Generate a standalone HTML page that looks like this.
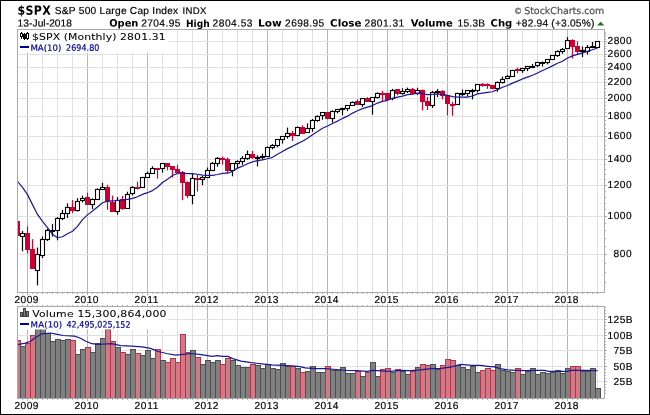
<!DOCTYPE html>
<html><head><meta charset="utf-8"><title>$SPX S&amp;P 500 Large Cap Index</title>
<style>html,body{margin:0;padding:0;background:#fff}svg{display:block;will-change:transform}</style></head>
<body>
<svg width="650" height="415" viewBox="0 0 650 415">
<rect x="0" y="0" width="650" height="415" fill="#fff"/>
<g shape-rendering="crispEdges" fill="none">
<line x1="27.5" y1="29.5" x2="27.5" y2="292.5" stroke="#b6b6b6" stroke-width="1"/>
<line x1="42.5" y1="29.5" x2="42.5" y2="292.5" stroke="#e1e1e1" stroke-width="1"/>
<line x1="57.5" y1="29.5" x2="57.5" y2="292.5" stroke="#e1e1e1" stroke-width="1"/>
<line x1="72.5" y1="29.5" x2="72.5" y2="292.5" stroke="#e1e1e1" stroke-width="1"/>
<line x1="87.5" y1="29.5" x2="87.5" y2="292.5" stroke="#b6b6b6" stroke-width="1"/>
<line x1="102.5" y1="29.5" x2="102.5" y2="292.5" stroke="#e1e1e1" stroke-width="1"/>
<line x1="117.5" y1="29.5" x2="117.5" y2="292.5" stroke="#e1e1e1" stroke-width="1"/>
<line x1="132.5" y1="29.5" x2="132.5" y2="292.5" stroke="#e1e1e1" stroke-width="1"/>
<line x1="147.5" y1="29.5" x2="147.5" y2="292.5" stroke="#b6b6b6" stroke-width="1"/>
<line x1="162.5" y1="29.5" x2="162.5" y2="292.5" stroke="#e1e1e1" stroke-width="1"/>
<line x1="177.5" y1="29.5" x2="177.5" y2="292.5" stroke="#e1e1e1" stroke-width="1"/>
<line x1="192.5" y1="29.5" x2="192.5" y2="292.5" stroke="#e1e1e1" stroke-width="1"/>
<line x1="207.5" y1="29.5" x2="207.5" y2="292.5" stroke="#b6b6b6" stroke-width="1"/>
<line x1="222.5" y1="29.5" x2="222.5" y2="292.5" stroke="#e1e1e1" stroke-width="1"/>
<line x1="237.5" y1="29.5" x2="237.5" y2="292.5" stroke="#e1e1e1" stroke-width="1"/>
<line x1="252.5" y1="29.5" x2="252.5" y2="292.5" stroke="#e1e1e1" stroke-width="1"/>
<line x1="267.5" y1="29.5" x2="267.5" y2="292.5" stroke="#b6b6b6" stroke-width="1"/>
<line x1="282.5" y1="29.5" x2="282.5" y2="292.5" stroke="#e1e1e1" stroke-width="1"/>
<line x1="297.5" y1="29.5" x2="297.5" y2="292.5" stroke="#e1e1e1" stroke-width="1"/>
<line x1="312.5" y1="29.5" x2="312.5" y2="292.5" stroke="#e1e1e1" stroke-width="1"/>
<line x1="327.5" y1="29.5" x2="327.5" y2="292.5" stroke="#b6b6b6" stroke-width="1"/>
<line x1="342.5" y1="29.5" x2="342.5" y2="292.5" stroke="#e1e1e1" stroke-width="1"/>
<line x1="357.5" y1="29.5" x2="357.5" y2="292.5" stroke="#e1e1e1" stroke-width="1"/>
<line x1="372.5" y1="29.5" x2="372.5" y2="292.5" stroke="#e1e1e1" stroke-width="1"/>
<line x1="387.5" y1="29.5" x2="387.5" y2="292.5" stroke="#b6b6b6" stroke-width="1"/>
<line x1="402.5" y1="29.5" x2="402.5" y2="292.5" stroke="#e1e1e1" stroke-width="1"/>
<line x1="417.5" y1="29.5" x2="417.5" y2="292.5" stroke="#e1e1e1" stroke-width="1"/>
<line x1="432.5" y1="29.5" x2="432.5" y2="292.5" stroke="#e1e1e1" stroke-width="1"/>
<line x1="447.5" y1="29.5" x2="447.5" y2="292.5" stroke="#b6b6b6" stroke-width="1"/>
<line x1="462.5" y1="29.5" x2="462.5" y2="292.5" stroke="#e1e1e1" stroke-width="1"/>
<line x1="477.5" y1="29.5" x2="477.5" y2="292.5" stroke="#e1e1e1" stroke-width="1"/>
<line x1="492.5" y1="29.5" x2="492.5" y2="292.5" stroke="#e1e1e1" stroke-width="1"/>
<line x1="507.5" y1="29.5" x2="507.5" y2="292.5" stroke="#b6b6b6" stroke-width="1"/>
<line x1="522.5" y1="29.5" x2="522.5" y2="292.5" stroke="#e1e1e1" stroke-width="1"/>
<line x1="537.5" y1="29.5" x2="537.5" y2="292.5" stroke="#e1e1e1" stroke-width="1"/>
<line x1="552.5" y1="29.5" x2="552.5" y2="292.5" stroke="#e1e1e1" stroke-width="1"/>
<line x1="567.5" y1="29.5" x2="567.5" y2="292.5" stroke="#b6b6b6" stroke-width="1"/>
<line x1="582.5" y1="29.5" x2="582.5" y2="292.5" stroke="#e1e1e1" stroke-width="1"/>
<line x1="597.5" y1="29.5" x2="597.5" y2="292.5" stroke="#e1e1e1" stroke-width="1"/>
<line x1="17.5" y1="254.5" x2="604.5" y2="254.5" stroke="#e1e1e1" stroke-width="1"/>
<line x1="17.5" y1="216.5" x2="604.5" y2="216.5" stroke="#e1e1e1" stroke-width="1"/>
<line x1="17.5" y1="185.5" x2="604.5" y2="185.5" stroke="#e1e1e1" stroke-width="1"/>
<line x1="17.5" y1="159.5" x2="604.5" y2="159.5" stroke="#e1e1e1" stroke-width="1"/>
<line x1="17.5" y1="136.5" x2="604.5" y2="136.5" stroke="#e1e1e1" stroke-width="1"/>
<line x1="17.5" y1="116.5" x2="604.5" y2="116.5" stroke="#e1e1e1" stroke-width="1"/>
<line x1="17.5" y1="98.5" x2="604.5" y2="98.5" stroke="#e1e1e1" stroke-width="1"/>
<line x1="17.5" y1="82.5" x2="604.5" y2="82.5" stroke="#e1e1e1" stroke-width="1"/>
<line x1="17.5" y1="67.5" x2="604.5" y2="67.5" stroke="#e1e1e1" stroke-width="1"/>
<line x1="17.5" y1="54.5" x2="604.5" y2="54.5" stroke="#e1e1e1" stroke-width="1"/>
<line x1="17.5" y1="41.5" x2="604.5" y2="41.5" stroke="#e1e1e1" stroke-width="1"/>
</g>
<rect x="18" y="30" width="150" height="22.5" fill="#fff"/>
<clipPath id="cp"><rect x="18" y="30" width="586" height="262"/></clipPath>
<g clip-path="url(#cp)">
<rect x="15.0" y="221" width="5" height="15" fill="#cc0033"/>
<line x1="22.5" y1="230.9" x2="22.5" y2="251.2" stroke="#000" stroke-width="1.2"/>
<rect x="20.5" y="233.5" width="4" height="3" fill="#fff" stroke="#000" stroke-width="1.1"/>
<line x1="27.5" y1="226.4" x2="27.5" y2="253.6" stroke="#cc0033" stroke-width="1.2"/>
<rect x="25.0" y="233" width="5" height="17" fill="#cc0033"/>
<line x1="32.5" y1="239.2" x2="32.5" y2="269.0" stroke="#cc0033" stroke-width="1.2"/>
<rect x="30.0" y="249" width="5" height="20" fill="#cc0033"/>
<line x1="37.5" y1="247.6" x2="37.5" y2="285.4" stroke="#000" stroke-width="1.2"/>
<rect x="35.5" y="254.5" width="4" height="16" fill="#fff" stroke="#000" stroke-width="1.1"/>
<line x1="42.5" y1="236.6" x2="42.5" y2="258.1" stroke="#000" stroke-width="1.2"/>
<rect x="40.5" y="239.5" width="4" height="16" fill="#fff" stroke="#000" stroke-width="1.1"/>
<line x1="47.5" y1="228.8" x2="47.5" y2="241.0" stroke="#000" stroke-width="1.2"/>
<rect x="45.5" y="230.5" width="4" height="9" fill="#fff" stroke="#000" stroke-width="1.1"/>
<line x1="52.5" y1="224.1" x2="52.5" y2="236.6" stroke="#000" stroke-width="1.2"/>
<rect x="50.0" y="230" width="5" height="2" fill="#000"/>
<line x1="57.5" y1="217.1" x2="57.5" y2="240.3" stroke="#000" stroke-width="1.2"/>
<rect x="55.5" y="218.5" width="4" height="12" fill="#fff" stroke="#000" stroke-width="1.1"/>
<line x1="62.5" y1="210.0" x2="62.5" y2="220.2" stroke="#000" stroke-width="1.2"/>
<rect x="60.5" y="213.5" width="4" height="5" fill="#fff" stroke="#000" stroke-width="1.1"/>
<line x1="67.5" y1="203.4" x2="67.5" y2="217.9" stroke="#000" stroke-width="1.2"/>
<rect x="65.5" y="207.5" width="4" height="6" fill="#fff" stroke="#000" stroke-width="1.1"/>
<line x1="72.5" y1="200.1" x2="72.5" y2="213.2" stroke="#cc0033" stroke-width="1.2"/>
<rect x="70.0" y="207" width="5" height="4" fill="#cc0033"/>
<line x1="77.5" y1="198.2" x2="77.5" y2="211.6" stroke="#000" stroke-width="1.2"/>
<rect x="75.5" y="201.5" width="4" height="9" fill="#fff" stroke="#000" stroke-width="1.1"/>
<line x1="82.5" y1="195.7" x2="82.5" y2="202.5" stroke="#000" stroke-width="1.2"/>
<rect x="80.5" y="198.5" width="4" height="2" fill="#fff" stroke="#000" stroke-width="1.1"/>
<line x1="87.5" y1="192.7" x2="87.5" y2="204.8" stroke="#cc0033" stroke-width="1.2"/>
<rect x="85.0" y="197" width="5" height="8" fill="#cc0033"/>
<line x1="92.5" y1="198.4" x2="92.5" y2="209.1" stroke="#000" stroke-width="1.2"/>
<rect x="90.5" y="199.5" width="4" height="5" fill="#fff" stroke="#000" stroke-width="1.1"/>
<line x1="97.5" y1="188.3" x2="97.5" y2="199.5" stroke="#000" stroke-width="1.2"/>
<rect x="95.5" y="189.5" width="4" height="10" fill="#fff" stroke="#000" stroke-width="1.1"/>
<line x1="102.5" y1="182.8" x2="102.5" y2="189.7" stroke="#000" stroke-width="1.2"/>
<rect x="100.5" y="187.5" width="4" height="2" fill="#fff" stroke="#000" stroke-width="1.1"/>
<line x1="107.5" y1="184.8" x2="107.5" y2="209.7" stroke="#cc0033" stroke-width="1.2"/>
<rect x="105.0" y="187" width="5" height="15" fill="#cc0033"/>
<line x1="112.5" y1="195.6" x2="112.5" y2="211.8" stroke="#cc0033" stroke-width="1.2"/>
<rect x="110.0" y="202" width="5" height="10" fill="#cc0033"/>
<line x1="117.5" y1="197.1" x2="117.5" y2="214.7" stroke="#000" stroke-width="1.2"/>
<rect x="115.5" y="200.5" width="4" height="11" fill="#fff" stroke="#000" stroke-width="1.1"/>
<line x1="122.5" y1="195.9" x2="122.5" y2="209.9" stroke="#cc0033" stroke-width="1.2"/>
<rect x="120.0" y="199" width="5" height="10" fill="#cc0033"/>
<line x1="127.5" y1="191.7" x2="127.5" y2="208.3" stroke="#000" stroke-width="1.2"/>
<rect x="125.5" y="194.5" width="4" height="14" fill="#fff" stroke="#000" stroke-width="1.1"/>
<line x1="132.5" y1="186.1" x2="132.5" y2="195.5" stroke="#000" stroke-width="1.2"/>
<rect x="130.5" y="187.5" width="4" height="6" fill="#fff" stroke="#000" stroke-width="1.1"/>
<line x1="137.5" y1="181.7" x2="137.5" y2="189.4" stroke="#cc0033" stroke-width="1.2"/>
<rect x="135.0" y="187" width="5" height="2" fill="#cc0033"/>
<line x1="142.5" y1="176.9" x2="142.5" y2="187.4" stroke="#000" stroke-width="1.2"/>
<rect x="140.5" y="177.5" width="4" height="10" fill="#fff" stroke="#000" stroke-width="1.1"/>
<line x1="147.5" y1="171.6" x2="147.5" y2="177.6" stroke="#000" stroke-width="1.2"/>
<rect x="145.5" y="173.5" width="4" height="4" fill="#fff" stroke="#000" stroke-width="1.1"/>
<line x1="152.5" y1="166.3" x2="152.5" y2="173.4" stroke="#000" stroke-width="1.2"/>
<rect x="150.5" y="168.5" width="4" height="5" fill="#fff" stroke="#000" stroke-width="1.1"/>
<line x1="157.5" y1="167.8" x2="157.5" y2="178.7" stroke="#cc0033" stroke-width="1.2"/>
<rect x="155.0" y="168" width="5" height="2" fill="#cc0033"/>
<line x1="162.5" y1="163.7" x2="162.5" y2="172.6" stroke="#000" stroke-width="1.2"/>
<rect x="160.5" y="163.5" width="4" height="5" fill="#fff" stroke="#000" stroke-width="1.1"/>
<line x1="167.5" y1="162.9" x2="167.5" y2="170.4" stroke="#cc0033" stroke-width="1.2"/>
<rect x="165.0" y="163" width="5" height="4" fill="#cc0033"/>
<line x1="172.5" y1="166.1" x2="172.5" y2="177.5" stroke="#cc0033" stroke-width="1.2"/>
<rect x="170.0" y="166" width="5" height="4" fill="#cc0033"/>
<line x1="177.5" y1="164.7" x2="177.5" y2="174.2" stroke="#cc0033" stroke-width="1.2"/>
<rect x="175.0" y="169" width="5" height="4" fill="#cc0033"/>
<line x1="182.5" y1="171.0" x2="182.5" y2="200.1" stroke="#cc0033" stroke-width="1.2"/>
<rect x="180.0" y="172" width="5" height="11" fill="#cc0033"/>
<line x1="187.5" y1="181.4" x2="187.5" y2="198.1" stroke="#cc0033" stroke-width="1.2"/>
<rect x="185.0" y="182" width="5" height="14" fill="#cc0033"/>
<line x1="192.5" y1="172.9" x2="192.5" y2="204.3" stroke="#000" stroke-width="1.2"/>
<rect x="190.5" y="178.5" width="4" height="17" fill="#fff" stroke="#000" stroke-width="1.1"/>
<line x1="197.5" y1="174.9" x2="197.5" y2="191.5" stroke="#cc0033" stroke-width="1.2"/>
<rect x="195.0" y="178" width="5" height="2" fill="#cc0033"/>
<line x1="202.5" y1="176.0" x2="202.5" y2="185.2" stroke="#000" stroke-width="1.2"/>
<rect x="200.5" y="177.5" width="4" height="2" fill="#fff" stroke="#000" stroke-width="1.1"/>
<line x1="207.5" y1="167.6" x2="207.5" y2="177.4" stroke="#000" stroke-width="1.2"/>
<rect x="205.5" y="170.5" width="4" height="7" fill="#fff" stroke="#000" stroke-width="1.1"/>
<line x1="212.5" y1="162.0" x2="212.5" y2="170.3" stroke="#000" stroke-width="1.2"/>
<rect x="210.5" y="163.5" width="4" height="7" fill="#fff" stroke="#000" stroke-width="1.1"/>
<line x1="217.5" y1="157.0" x2="217.5" y2="166.8" stroke="#000" stroke-width="1.2"/>
<rect x="215.5" y="158.5" width="4" height="5" fill="#fff" stroke="#000" stroke-width="1.1"/>
<line x1="222.5" y1="156.6" x2="222.5" y2="164.6" stroke="#cc0033" stroke-width="1.2"/>
<rect x="220.0" y="158" width="5" height="2" fill="#cc0033"/>
<line x1="227.5" y1="157.5" x2="227.5" y2="173.0" stroke="#cc0033" stroke-width="1.2"/>
<rect x="225.0" y="159" width="5" height="12" fill="#cc0033"/>
<line x1="232.5" y1="163.8" x2="232.5" y2="176.3" stroke="#000" stroke-width="1.2"/>
<rect x="230.5" y="163.5" width="4" height="7" fill="#fff" stroke="#000" stroke-width="1.1"/>
<line x1="237.5" y1="160.3" x2="237.5" y2="168.6" stroke="#000" stroke-width="1.2"/>
<rect x="235.5" y="161.5" width="4" height="2" fill="#fff" stroke="#000" stroke-width="1.1"/>
<line x1="242.5" y1="156.1" x2="242.5" y2="164.9" stroke="#000" stroke-width="1.2"/>
<rect x="240.5" y="158.5" width="4" height="3" fill="#fff" stroke="#000" stroke-width="1.1"/>
<line x1="247.5" y1="150.5" x2="247.5" y2="159.8" stroke="#000" stroke-width="1.2"/>
<rect x="245.5" y="154.5" width="4" height="4" fill="#fff" stroke="#000" stroke-width="1.1"/>
<line x1="252.5" y1="150.9" x2="252.5" y2="158.9" stroke="#cc0033" stroke-width="1.2"/>
<rect x="250.0" y="154" width="5" height="4" fill="#cc0033"/>
<line x1="257.5" y1="155.2" x2="257.5" y2="166.4" stroke="#000" stroke-width="1.2"/>
<rect x="255.5" y="157.5" width="4" height="1" fill="#fff" stroke="#000" stroke-width="1.1"/>
<line x1="262.5" y1="153.6" x2="262.5" y2="159.6" stroke="#000" stroke-width="1.2"/>
<rect x="260.5" y="156.5" width="4" height="1" fill="#fff" stroke="#000" stroke-width="1.1"/>
<line x1="267.5" y1="146.5" x2="267.5" y2="156.2" stroke="#000" stroke-width="1.2"/>
<rect x="265.5" y="147.5" width="4" height="9" fill="#fff" stroke="#000" stroke-width="1.1"/>
<line x1="272.5" y1="144.1" x2="272.5" y2="149.3" stroke="#000" stroke-width="1.2"/>
<rect x="270.5" y="145.5" width="4" height="2" fill="#fff" stroke="#000" stroke-width="1.1"/>
<line x1="277.5" y1="139.8" x2="277.5" y2="147.4" stroke="#000" stroke-width="1.2"/>
<rect x="275.5" y="139.5" width="4" height="6" fill="#fff" stroke="#000" stroke-width="1.1"/>
<line x1="282.5" y1="136.9" x2="282.5" y2="143.6" stroke="#000" stroke-width="1.2"/>
<rect x="280.5" y="136.5" width="4" height="3" fill="#fff" stroke="#000" stroke-width="1.1"/>
<line x1="287.5" y1="127.6" x2="287.5" y2="138.6" stroke="#000" stroke-width="1.2"/>
<rect x="285.5" y="133.5" width="4" height="3" fill="#fff" stroke="#000" stroke-width="1.1"/>
<line x1="292.5" y1="131.0" x2="292.5" y2="140.9" stroke="#cc0033" stroke-width="1.2"/>
<rect x="290.0" y="133" width="5" height="3" fill="#cc0033"/>
<line x1="297.5" y1="126.5" x2="297.5" y2="136.1" stroke="#000" stroke-width="1.2"/>
<rect x="295.5" y="127.5" width="4" height="8" fill="#fff" stroke="#000" stroke-width="1.1"/>
<line x1="302.5" y1="125.4" x2="302.5" y2="133.7" stroke="#cc0033" stroke-width="1.2"/>
<rect x="300.0" y="127" width="5" height="7" fill="#cc0033"/>
<line x1="307.5" y1="123.4" x2="307.5" y2="133.1" stroke="#000" stroke-width="1.2"/>
<rect x="305.5" y="128.5" width="4" height="4" fill="#fff" stroke="#000" stroke-width="1.1"/>
<line x1="312.5" y1="119.0" x2="312.5" y2="131.8" stroke="#000" stroke-width="1.2"/>
<rect x="310.5" y="120.5" width="4" height="8" fill="#fff" stroke="#000" stroke-width="1.1"/>
<line x1="317.5" y1="115.3" x2="317.5" y2="121.8" stroke="#000" stroke-width="1.2"/>
<rect x="315.5" y="116.5" width="4" height="4" fill="#fff" stroke="#000" stroke-width="1.1"/>
<line x1="322.5" y1="112.0" x2="322.5" y2="119.7" stroke="#000" stroke-width="1.2"/>
<rect x="320.5" y="112.5" width="4" height="3" fill="#fff" stroke="#000" stroke-width="1.1"/>
<line x1="327.5" y1="111.9" x2="327.5" y2="119.4" stroke="#cc0033" stroke-width="1.2"/>
<rect x="325.0" y="112" width="5" height="7" fill="#cc0033"/>
<line x1="332.5" y1="110.3" x2="332.5" y2="122.6" stroke="#000" stroke-width="1.2"/>
<rect x="330.5" y="111.5" width="4" height="7" fill="#fff" stroke="#000" stroke-width="1.1"/>
<line x1="337.5" y1="108.9" x2="337.5" y2="113.4" stroke="#000" stroke-width="1.2"/>
<rect x="335.5" y="109.5" width="4" height="2" fill="#fff" stroke="#000" stroke-width="1.1"/>
<line x1="342.5" y1="107.7" x2="342.5" y2="115.3" stroke="#000" stroke-width="1.2"/>
<rect x="340.5" y="108.5" width="4" height="1" fill="#fff" stroke="#000" stroke-width="1.1"/>
<line x1="347.5" y1="105.3" x2="347.5" y2="111.1" stroke="#000" stroke-width="1.2"/>
<rect x="345.5" y="105.5" width="4" height="3" fill="#fff" stroke="#000" stroke-width="1.1"/>
<line x1="352.5" y1="101.4" x2="352.5" y2="106.0" stroke="#000" stroke-width="1.2"/>
<rect x="350.5" y="102.5" width="4" height="3" fill="#fff" stroke="#000" stroke-width="1.1"/>
<line x1="357.5" y1="99.4" x2="357.5" y2="104.7" stroke="#cc0033" stroke-width="1.2"/>
<rect x="355.0" y="101" width="5" height="4" fill="#cc0033"/>
<line x1="362.5" y1="98.3" x2="362.5" y2="107.0" stroke="#000" stroke-width="1.2"/>
<rect x="360.5" y="98.5" width="4" height="6" fill="#fff" stroke="#000" stroke-width="1.1"/>
<line x1="367.5" y1="97.1" x2="367.5" y2="101.8" stroke="#cc0033" stroke-width="1.2"/>
<rect x="365.0" y="98" width="5" height="4" fill="#cc0033"/>
<line x1="372.5" y1="97.2" x2="372.5" y2="114.7" stroke="#000" stroke-width="1.2"/>
<rect x="370.5" y="97.5" width="4" height="4" fill="#fff" stroke="#000" stroke-width="1.1"/>
<line x1="377.5" y1="92.4" x2="377.5" y2="98.6" stroke="#000" stroke-width="1.2"/>
<rect x="375.5" y="93.5" width="4" height="4" fill="#fff" stroke="#000" stroke-width="1.1"/>
<line x1="382.5" y1="90.9" x2="382.5" y2="101.0" stroke="#cc0033" stroke-width="1.2"/>
<rect x="380.0" y="93" width="5" height="2" fill="#cc0033"/>
<line x1="387.5" y1="92.7" x2="387.5" y2="99.7" stroke="#cc0033" stroke-width="1.2"/>
<rect x="385.0" y="93" width="5" height="7" fill="#cc0033"/>
<line x1="392.5" y1="88.8" x2="392.5" y2="100.3" stroke="#000" stroke-width="1.2"/>
<rect x="390.5" y="90.5" width="4" height="8" fill="#fff" stroke="#000" stroke-width="1.1"/>
<line x1="397.5" y1="89.0" x2="397.5" y2="95.4" stroke="#cc0033" stroke-width="1.2"/>
<rect x="395.0" y="89" width="5" height="5" fill="#cc0033"/>
<line x1="402.5" y1="88.3" x2="402.5" y2="94.6" stroke="#000" stroke-width="1.2"/>
<rect x="400.5" y="91.5" width="4" height="2" fill="#fff" stroke="#000" stroke-width="1.1"/>
<line x1="407.5" y1="87.6" x2="407.5" y2="93.0" stroke="#000" stroke-width="1.2"/>
<rect x="405.5" y="89.5" width="4" height="2" fill="#fff" stroke="#000" stroke-width="1.1"/>
<line x1="412.5" y1="88.0" x2="412.5" y2="94.0" stroke="#cc0033" stroke-width="1.2"/>
<rect x="410.0" y="89" width="5" height="5" fill="#cc0033"/>
<line x1="417.5" y1="87.8" x2="417.5" y2="95.0" stroke="#000" stroke-width="1.2"/>
<rect x="415.5" y="90.5" width="4" height="3" fill="#fff" stroke="#000" stroke-width="1.1"/>
<line x1="422.5" y1="89.4" x2="422.5" y2="110.4" stroke="#cc0033" stroke-width="1.2"/>
<rect x="420.0" y="90" width="5" height="12" fill="#cc0033"/>
<line x1="427.5" y1="96.9" x2="427.5" y2="110.0" stroke="#cc0033" stroke-width="1.2"/>
<rect x="425.0" y="101" width="5" height="5" fill="#cc0033"/>
<line x1="432.5" y1="90.9" x2="432.5" y2="108.0" stroke="#000" stroke-width="1.2"/>
<rect x="430.5" y="92.5" width="4" height="13" fill="#fff" stroke="#000" stroke-width="1.1"/>
<line x1="437.5" y1="89.1" x2="437.5" y2="97.1" stroke="#000" stroke-width="1.2"/>
<rect x="435.0" y="91" width="5" height="2" fill="#000"/>
<line x1="442.5" y1="90.1" x2="442.5" y2="99.3" stroke="#cc0033" stroke-width="1.2"/>
<rect x="440.0" y="91" width="5" height="5" fill="#cc0033"/>
<line x1="447.5" y1="95.5" x2="447.5" y2="115.5" stroke="#cc0033" stroke-width="1.2"/>
<rect x="445.0" y="95" width="5" height="9" fill="#cc0033"/>
<line x1="452.5" y1="101.9" x2="452.5" y2="115.7" stroke="#cc0033" stroke-width="1.2"/>
<rect x="450.0" y="104" width="5" height="2" fill="#cc0033"/>
<line x1="457.5" y1="92.7" x2="457.5" y2="104.1" stroke="#000" stroke-width="1.2"/>
<rect x="455.5" y="93.5" width="4" height="11" fill="#fff" stroke="#000" stroke-width="1.1"/>
<line x1="462.5" y1="89.5" x2="462.5" y2="95.9" stroke="#000" stroke-width="1.2"/>
<rect x="460.5" y="93.5" width="4" height="1" fill="#fff" stroke="#000" stroke-width="1.1"/>
<line x1="467.5" y1="90.1" x2="467.5" y2="96.5" stroke="#000" stroke-width="1.2"/>
<rect x="465.5" y="90.5" width="4" height="3" fill="#fff" stroke="#000" stroke-width="1.1"/>
<line x1="472.5" y1="88.8" x2="472.5" y2="99.4" stroke="#000" stroke-width="1.2"/>
<rect x="470.5" y="90.5" width="4" height="1" fill="#fff" stroke="#000" stroke-width="1.1"/>
<line x1="477.5" y1="84.3" x2="477.5" y2="92.5" stroke="#000" stroke-width="1.2"/>
<rect x="475.5" y="84.5" width="4" height="6" fill="#fff" stroke="#000" stroke-width="1.1"/>
<line x1="482.5" y1="83.0" x2="482.5" y2="86.6" stroke="#cc0033" stroke-width="1.2"/>
<rect x="480.0" y="84" width="5" height="2" fill="#cc0033"/>
<line x1="487.5" y1="83.4" x2="487.5" y2="88.9" stroke="#cc0033" stroke-width="1.2"/>
<rect x="485.0" y="84" width="5" height="2" fill="#cc0033"/>
<line x1="492.5" y1="84.9" x2="492.5" y2="89.2" stroke="#cc0033" stroke-width="1.2"/>
<rect x="490.0" y="85" width="5" height="4" fill="#cc0033"/>
<line x1="497.5" y1="81.4" x2="497.5" y2="91.7" stroke="#000" stroke-width="1.2"/>
<rect x="495.5" y="82.5" width="4" height="6" fill="#fff" stroke="#000" stroke-width="1.1"/>
<line x1="502.5" y1="76.6" x2="502.5" y2="83.5" stroke="#000" stroke-width="1.2"/>
<rect x="500.5" y="79.5" width="4" height="3" fill="#fff" stroke="#000" stroke-width="1.1"/>
<line x1="507.5" y1="74.9" x2="507.5" y2="79.0" stroke="#000" stroke-width="1.2"/>
<rect x="505.5" y="76.5" width="4" height="2" fill="#fff" stroke="#000" stroke-width="1.1"/>
<line x1="512.5" y1="69.7" x2="512.5" y2="77.0" stroke="#000" stroke-width="1.2"/>
<rect x="510.5" y="70.5" width="4" height="6" fill="#fff" stroke="#000" stroke-width="1.1"/>
<line x1="517.5" y1="67.6" x2="517.5" y2="73.3" stroke="#cc0033" stroke-width="1.2"/>
<rect x="515.0" y="69" width="5" height="2" fill="#cc0033"/>
<line x1="522.5" y1="67.8" x2="522.5" y2="72.8" stroke="#000" stroke-width="1.2"/>
<rect x="520.5" y="68.5" width="4" height="2" fill="#fff" stroke="#000" stroke-width="1.1"/>
<line x1="527.5" y1="66.4" x2="527.5" y2="71.1" stroke="#000" stroke-width="1.2"/>
<rect x="525.5" y="66.5" width="4" height="2" fill="#fff" stroke="#000" stroke-width="1.1"/>
<line x1="532.5" y1="63.9" x2="532.5" y2="67.3" stroke="#000" stroke-width="1.2"/>
<rect x="530.5" y="66.5" width="4" height="1" fill="#fff" stroke="#000" stroke-width="1.1"/>
<line x1="537.5" y1="61.9" x2="537.5" y2="67.2" stroke="#000" stroke-width="1.2"/>
<rect x="535.5" y="62.5" width="4" height="3" fill="#fff" stroke="#000" stroke-width="1.1"/>
<line x1="542.5" y1="61.4" x2="542.5" y2="66.5" stroke="#000" stroke-width="1.2"/>
<rect x="540.0" y="62" width="5" height="2" fill="#000"/>
<line x1="547.5" y1="59.4" x2="547.5" y2="64.4" stroke="#000" stroke-width="1.2"/>
<rect x="545.5" y="59.5" width="4" height="3" fill="#fff" stroke="#000" stroke-width="1.1"/>
<line x1="552.5" y1="55.2" x2="552.5" y2="59.4" stroke="#000" stroke-width="1.2"/>
<rect x="550.5" y="55.5" width="4" height="4" fill="#fff" stroke="#000" stroke-width="1.1"/>
<line x1="557.5" y1="50.4" x2="557.5" y2="56.9" stroke="#000" stroke-width="1.2"/>
<rect x="555.5" y="51.5" width="4" height="4" fill="#fff" stroke="#000" stroke-width="1.1"/>
<line x1="562.5" y1="48.0" x2="562.5" y2="53.7" stroke="#000" stroke-width="1.2"/>
<rect x="560.5" y="49.5" width="4" height="2" fill="#fff" stroke="#000" stroke-width="1.1"/>
<line x1="567.5" y1="37.1" x2="567.5" y2="48.8" stroke="#000" stroke-width="1.2"/>
<rect x="565.5" y="40.5" width="4" height="8" fill="#fff" stroke="#000" stroke-width="1.1"/>
<line x1="572.5" y1="39.3" x2="572.5" y2="58.6" stroke="#cc0033" stroke-width="1.2"/>
<rect x="570.0" y="40" width="5" height="7" fill="#cc0033"/>
<line x1="577.5" y1="41.4" x2="577.5" y2="55.0" stroke="#cc0033" stroke-width="1.2"/>
<rect x="575.0" y="46" width="5" height="6" fill="#cc0033"/>
<line x1="582.5" y1="46.6" x2="582.5" y2="57.1" stroke="#000" stroke-width="1.2"/>
<rect x="580.5" y="50.5" width="4" height="1" fill="#fff" stroke="#000" stroke-width="1.1"/>
<line x1="587.5" y1="45.0" x2="587.5" y2="54.5" stroke="#000" stroke-width="1.2"/>
<rect x="585.5" y="47.5" width="4" height="4" fill="#fff" stroke="#000" stroke-width="1.1"/>
<line x1="592.5" y1="42.0" x2="592.5" y2="48.2" stroke="#000" stroke-width="1.2"/>
<rect x="590.0" y="46" width="5" height="2" fill="#000"/>
<line x1="597.5" y1="41.2" x2="597.5" y2="47.7" stroke="#000" stroke-width="1.2"/>
<rect x="595.5" y="41.5" width="4" height="6" fill="#fff" stroke="#000" stroke-width="1.1"/>
<polyline points="17.5,181.33 22.5,187.34 27.5,194.61 32.5,204.62 37.5,214.45 42.5,221.43 47.5,227.63 52.5,234.36 57.5,237.77 62.5,236.77 67.5,233.72 72.5,231.24 77.5,226.31 82.5,219.60 87.5,214.89 92.5,211.03 97.5,206.96 102.5,202.72 107.5,201.13 112.5,200.97 117.5,200.28 122.5,200.08 127.5,199.38 132.5,198.34 137.5,196.71 142.5,194.41 147.5,192.68 152.5,190.62 157.5,187.20 162.5,182.50 167.5,179.15 172.5,175.48 177.5,173.48 182.5,173.01 187.5,173.66 192.5,173.71 197.5,174.23 202.5,175.16 207.5,175.34 212.5,175.31 217.5,174.47 222.5,173.44 227.5,173.21 232.5,171.33 237.5,168.13 242.5,166.18 247.5,163.75 252.5,161.83 257.5,160.56 262.5,159.82 267.5,158.73 272.5,157.33 277.5,154.25 282.5,151.50 287.5,148.61 292.5,146.34 297.5,143.61 302.5,141.18 307.5,138.31 312.5,134.80 317.5,131.60 322.5,128.19 327.5,126.05 332.5,123.45 337.5,121.09 342.5,118.42 347.5,116.17 352.5,113.11 357.5,110.82 362.5,108.58 367.5,107.09 372.5,105.58 377.5,103.08 382.5,101.35 387.5,100.29 392.5,98.41 397.5,97.19 402.5,96.14 407.5,94.66 412.5,94.17 417.5,93.08 422.5,93.46 427.5,94.68 432.5,94.51 437.5,93.81 442.5,94.31 447.5,95.37 452.5,96.65 457.5,97.05 462.5,97.03 467.5,97.09 472.5,96.03 477.5,93.92 482.5,93.16 487.5,92.44 492.5,91.77 497.5,89.67 502.5,87.22 507.5,85.49 512.5,83.16 517.5,81.11 522.5,78.93 527.5,77.14 532.5,75.26 537.5,73.04 542.5,70.53 547.5,68.24 552.5,65.87 557.5,63.30 562.5,61.18 567.5,58.06 572.5,55.87 577.5,54.36 582.5,52.90 587.5,51.38 592.5,49.80 597.5,48.01" fill="none" stroke="#1a1a92" stroke-width="1.2" stroke-linejoin="round"/>
</g>
<g shape-rendering="crispEdges" fill="none" stroke="#ababab" stroke-width="1">
<rect x="17.5" y="29.5" width="587.0" height="263.0"/>
<line x1="604.5" y1="282.5" x2="606.0" y2="282.5"/>
<line x1="604.5" y1="272.5" x2="606.0" y2="272.5"/>
<line x1="604.5" y1="263.5" x2="606.0" y2="263.5"/>
<line x1="604.5" y1="254.5" x2="607.0" y2="254.5"/>
<line x1="604.5" y1="246.5" x2="606.0" y2="246.5"/>
<line x1="604.5" y1="238.5" x2="606.0" y2="238.5"/>
<line x1="604.5" y1="230.5" x2="606.0" y2="230.5"/>
<line x1="604.5" y1="223.5" x2="606.0" y2="223.5"/>
<line x1="604.5" y1="216.5" x2="607.0" y2="216.5"/>
<line x1="604.5" y1="209.5" x2="606.0" y2="209.5"/>
<line x1="604.5" y1="203.5" x2="606.0" y2="203.5"/>
<line x1="604.5" y1="197.5" x2="606.0" y2="197.5"/>
<line x1="604.5" y1="191.5" x2="606.0" y2="191.5"/>
<line x1="604.5" y1="185.5" x2="607.0" y2="185.5"/>
<line x1="604.5" y1="179.5" x2="606.0" y2="179.5"/>
<line x1="604.5" y1="174.5" x2="606.0" y2="174.5"/>
<line x1="604.5" y1="169.5" x2="606.0" y2="169.5"/>
<line x1="604.5" y1="164.5" x2="606.0" y2="164.5"/>
<line x1="604.5" y1="159.5" x2="607.0" y2="159.5"/>
<line x1="604.5" y1="154.5" x2="606.0" y2="154.5"/>
<line x1="604.5" y1="149.5" x2="606.0" y2="149.5"/>
<line x1="604.5" y1="145.5" x2="606.0" y2="145.5"/>
<line x1="604.5" y1="140.5" x2="606.0" y2="140.5"/>
<line x1="604.5" y1="136.5" x2="607.0" y2="136.5"/>
<line x1="604.5" y1="132.5" x2="606.0" y2="132.5"/>
<line x1="604.5" y1="128.5" x2="606.0" y2="128.5"/>
<line x1="604.5" y1="124.5" x2="606.0" y2="124.5"/>
<line x1="604.5" y1="120.5" x2="606.0" y2="120.5"/>
<line x1="604.5" y1="116.5" x2="607.0" y2="116.5"/>
<line x1="604.5" y1="112.5" x2="606.0" y2="112.5"/>
<line x1="604.5" y1="109.5" x2="606.0" y2="109.5"/>
<line x1="604.5" y1="105.5" x2="606.0" y2="105.5"/>
<line x1="604.5" y1="102.5" x2="606.0" y2="102.5"/>
<line x1="604.5" y1="98.5" x2="607.0" y2="98.5"/>
<line x1="604.5" y1="95.5" x2="606.0" y2="95.5"/>
<line x1="604.5" y1="92.5" x2="606.0" y2="92.5"/>
<line x1="604.5" y1="88.5" x2="606.0" y2="88.5"/>
<line x1="604.5" y1="85.5" x2="606.0" y2="85.5"/>
<line x1="604.5" y1="82.5" x2="607.0" y2="82.5"/>
<line x1="604.5" y1="79.5" x2="606.0" y2="79.5"/>
<line x1="604.5" y1="76.5" x2="606.0" y2="76.5"/>
<line x1="604.5" y1="73.5" x2="606.0" y2="73.5"/>
<line x1="604.5" y1="70.5" x2="606.0" y2="70.5"/>
<line x1="604.5" y1="67.5" x2="607.0" y2="67.5"/>
<line x1="604.5" y1="64.5" x2="606.0" y2="64.5"/>
<line x1="604.5" y1="62.5" x2="606.0" y2="62.5"/>
<line x1="604.5" y1="59.5" x2="606.0" y2="59.5"/>
<line x1="604.5" y1="56.5" x2="606.0" y2="56.5"/>
<line x1="604.5" y1="54.5" x2="607.0" y2="54.5"/>
<line x1="604.5" y1="51.5" x2="606.0" y2="51.5"/>
<line x1="604.5" y1="48.5" x2="606.0" y2="48.5"/>
<line x1="604.5" y1="46.5" x2="606.0" y2="46.5"/>
<line x1="604.5" y1="43.5" x2="606.0" y2="43.5"/>
<line x1="604.5" y1="41.5" x2="607.0" y2="41.5"/>
<line x1="604.5" y1="39.5" x2="606.0" y2="39.5"/>
<line x1="604.5" y1="36.5" x2="606.0" y2="36.5"/>
<line x1="604.5" y1="34.5" x2="606.0" y2="34.5"/>
<line x1="604.5" y1="32.5" x2="606.0" y2="32.5"/>
<line x1="22.5" y1="292.5" x2="22.5" y2="294.0"/>
<line x1="27.5" y1="292.5" x2="27.5" y2="295.0"/>
<line x1="32.5" y1="292.5" x2="32.5" y2="294.0"/>
<line x1="37.5" y1="292.5" x2="37.5" y2="294.0"/>
<line x1="42.5" y1="292.5" x2="42.5" y2="294.0"/>
<line x1="47.5" y1="292.5" x2="47.5" y2="294.0"/>
<line x1="52.5" y1="292.5" x2="52.5" y2="294.0"/>
<line x1="57.5" y1="292.5" x2="57.5" y2="294.0"/>
<line x1="62.5" y1="292.5" x2="62.5" y2="294.0"/>
<line x1="67.5" y1="292.5" x2="67.5" y2="294.0"/>
<line x1="72.5" y1="292.5" x2="72.5" y2="294.0"/>
<line x1="77.5" y1="292.5" x2="77.5" y2="294.0"/>
<line x1="82.5" y1="292.5" x2="82.5" y2="294.0"/>
<line x1="87.5" y1="292.5" x2="87.5" y2="295.0"/>
<line x1="92.5" y1="292.5" x2="92.5" y2="294.0"/>
<line x1="97.5" y1="292.5" x2="97.5" y2="294.0"/>
<line x1="102.5" y1="292.5" x2="102.5" y2="294.0"/>
<line x1="107.5" y1="292.5" x2="107.5" y2="294.0"/>
<line x1="112.5" y1="292.5" x2="112.5" y2="294.0"/>
<line x1="117.5" y1="292.5" x2="117.5" y2="294.0"/>
<line x1="122.5" y1="292.5" x2="122.5" y2="294.0"/>
<line x1="127.5" y1="292.5" x2="127.5" y2="294.0"/>
<line x1="132.5" y1="292.5" x2="132.5" y2="294.0"/>
<line x1="137.5" y1="292.5" x2="137.5" y2="294.0"/>
<line x1="142.5" y1="292.5" x2="142.5" y2="294.0"/>
<line x1="147.5" y1="292.5" x2="147.5" y2="295.0"/>
<line x1="152.5" y1="292.5" x2="152.5" y2="294.0"/>
<line x1="157.5" y1="292.5" x2="157.5" y2="294.0"/>
<line x1="162.5" y1="292.5" x2="162.5" y2="294.0"/>
<line x1="167.5" y1="292.5" x2="167.5" y2="294.0"/>
<line x1="172.5" y1="292.5" x2="172.5" y2="294.0"/>
<line x1="177.5" y1="292.5" x2="177.5" y2="294.0"/>
<line x1="182.5" y1="292.5" x2="182.5" y2="294.0"/>
<line x1="187.5" y1="292.5" x2="187.5" y2="294.0"/>
<line x1="192.5" y1="292.5" x2="192.5" y2="294.0"/>
<line x1="197.5" y1="292.5" x2="197.5" y2="294.0"/>
<line x1="202.5" y1="292.5" x2="202.5" y2="294.0"/>
<line x1="207.5" y1="292.5" x2="207.5" y2="295.0"/>
<line x1="212.5" y1="292.5" x2="212.5" y2="294.0"/>
<line x1="217.5" y1="292.5" x2="217.5" y2="294.0"/>
<line x1="222.5" y1="292.5" x2="222.5" y2="294.0"/>
<line x1="227.5" y1="292.5" x2="227.5" y2="294.0"/>
<line x1="232.5" y1="292.5" x2="232.5" y2="294.0"/>
<line x1="237.5" y1="292.5" x2="237.5" y2="294.0"/>
<line x1="242.5" y1="292.5" x2="242.5" y2="294.0"/>
<line x1="247.5" y1="292.5" x2="247.5" y2="294.0"/>
<line x1="252.5" y1="292.5" x2="252.5" y2="294.0"/>
<line x1="257.5" y1="292.5" x2="257.5" y2="294.0"/>
<line x1="262.5" y1="292.5" x2="262.5" y2="294.0"/>
<line x1="267.5" y1="292.5" x2="267.5" y2="295.0"/>
<line x1="272.5" y1="292.5" x2="272.5" y2="294.0"/>
<line x1="277.5" y1="292.5" x2="277.5" y2="294.0"/>
<line x1="282.5" y1="292.5" x2="282.5" y2="294.0"/>
<line x1="287.5" y1="292.5" x2="287.5" y2="294.0"/>
<line x1="292.5" y1="292.5" x2="292.5" y2="294.0"/>
<line x1="297.5" y1="292.5" x2="297.5" y2="294.0"/>
<line x1="302.5" y1="292.5" x2="302.5" y2="294.0"/>
<line x1="307.5" y1="292.5" x2="307.5" y2="294.0"/>
<line x1="312.5" y1="292.5" x2="312.5" y2="294.0"/>
<line x1="317.5" y1="292.5" x2="317.5" y2="294.0"/>
<line x1="322.5" y1="292.5" x2="322.5" y2="294.0"/>
<line x1="327.5" y1="292.5" x2="327.5" y2="295.0"/>
<line x1="332.5" y1="292.5" x2="332.5" y2="294.0"/>
<line x1="337.5" y1="292.5" x2="337.5" y2="294.0"/>
<line x1="342.5" y1="292.5" x2="342.5" y2="294.0"/>
<line x1="347.5" y1="292.5" x2="347.5" y2="294.0"/>
<line x1="352.5" y1="292.5" x2="352.5" y2="294.0"/>
<line x1="357.5" y1="292.5" x2="357.5" y2="294.0"/>
<line x1="362.5" y1="292.5" x2="362.5" y2="294.0"/>
<line x1="367.5" y1="292.5" x2="367.5" y2="294.0"/>
<line x1="372.5" y1="292.5" x2="372.5" y2="294.0"/>
<line x1="377.5" y1="292.5" x2="377.5" y2="294.0"/>
<line x1="382.5" y1="292.5" x2="382.5" y2="294.0"/>
<line x1="387.5" y1="292.5" x2="387.5" y2="295.0"/>
<line x1="392.5" y1="292.5" x2="392.5" y2="294.0"/>
<line x1="397.5" y1="292.5" x2="397.5" y2="294.0"/>
<line x1="402.5" y1="292.5" x2="402.5" y2="294.0"/>
<line x1="407.5" y1="292.5" x2="407.5" y2="294.0"/>
<line x1="412.5" y1="292.5" x2="412.5" y2="294.0"/>
<line x1="417.5" y1="292.5" x2="417.5" y2="294.0"/>
<line x1="422.5" y1="292.5" x2="422.5" y2="294.0"/>
<line x1="427.5" y1="292.5" x2="427.5" y2="294.0"/>
<line x1="432.5" y1="292.5" x2="432.5" y2="294.0"/>
<line x1="437.5" y1="292.5" x2="437.5" y2="294.0"/>
<line x1="442.5" y1="292.5" x2="442.5" y2="294.0"/>
<line x1="447.5" y1="292.5" x2="447.5" y2="295.0"/>
<line x1="452.5" y1="292.5" x2="452.5" y2="294.0"/>
<line x1="457.5" y1="292.5" x2="457.5" y2="294.0"/>
<line x1="462.5" y1="292.5" x2="462.5" y2="294.0"/>
<line x1="467.5" y1="292.5" x2="467.5" y2="294.0"/>
<line x1="472.5" y1="292.5" x2="472.5" y2="294.0"/>
<line x1="477.5" y1="292.5" x2="477.5" y2="294.0"/>
<line x1="482.5" y1="292.5" x2="482.5" y2="294.0"/>
<line x1="487.5" y1="292.5" x2="487.5" y2="294.0"/>
<line x1="492.5" y1="292.5" x2="492.5" y2="294.0"/>
<line x1="497.5" y1="292.5" x2="497.5" y2="294.0"/>
<line x1="502.5" y1="292.5" x2="502.5" y2="294.0"/>
<line x1="507.5" y1="292.5" x2="507.5" y2="295.0"/>
<line x1="512.5" y1="292.5" x2="512.5" y2="294.0"/>
<line x1="517.5" y1="292.5" x2="517.5" y2="294.0"/>
<line x1="522.5" y1="292.5" x2="522.5" y2="294.0"/>
<line x1="527.5" y1="292.5" x2="527.5" y2="294.0"/>
<line x1="532.5" y1="292.5" x2="532.5" y2="294.0"/>
<line x1="537.5" y1="292.5" x2="537.5" y2="294.0"/>
<line x1="542.5" y1="292.5" x2="542.5" y2="294.0"/>
<line x1="547.5" y1="292.5" x2="547.5" y2="294.0"/>
<line x1="552.5" y1="292.5" x2="552.5" y2="294.0"/>
<line x1="557.5" y1="292.5" x2="557.5" y2="294.0"/>
<line x1="562.5" y1="292.5" x2="562.5" y2="294.0"/>
<line x1="567.5" y1="292.5" x2="567.5" y2="295.0"/>
<line x1="572.5" y1="292.5" x2="572.5" y2="294.0"/>
<line x1="577.5" y1="292.5" x2="577.5" y2="294.0"/>
<line x1="582.5" y1="292.5" x2="582.5" y2="294.0"/>
<line x1="587.5" y1="292.5" x2="587.5" y2="294.0"/>
<line x1="592.5" y1="292.5" x2="592.5" y2="294.0"/>
<line x1="597.5" y1="292.5" x2="597.5" y2="294.0"/>
</g>
<text transform="translate(631.6,257) rotate(0.03)" font-family='"Liberation Sans", sans-serif' font-size="10.2" textLength="18" lengthAdjust="spacing" text-anchor="end" stroke="#000" stroke-width="0.18">800</text>
<text transform="translate(631.6,219) rotate(0.03)" font-family='"Liberation Sans", sans-serif' font-size="10.2" textLength="24" lengthAdjust="spacing" text-anchor="end" stroke="#000" stroke-width="0.18">1000</text>
<text transform="translate(631.6,188) rotate(0.03)" font-family='"Liberation Sans", sans-serif' font-size="10.2" textLength="24" lengthAdjust="spacing" text-anchor="end" stroke="#000" stroke-width="0.18">1200</text>
<text transform="translate(631.6,162) rotate(0.03)" font-family='"Liberation Sans", sans-serif' font-size="10.2" textLength="24" lengthAdjust="spacing" text-anchor="end" stroke="#000" stroke-width="0.18">1400</text>
<text transform="translate(631.6,139) rotate(0.03)" font-family='"Liberation Sans", sans-serif' font-size="10.2" textLength="24" lengthAdjust="spacing" text-anchor="end" stroke="#000" stroke-width="0.18">1600</text>
<text transform="translate(631.6,119) rotate(0.03)" font-family='"Liberation Sans", sans-serif' font-size="10.2" textLength="24" lengthAdjust="spacing" text-anchor="end" stroke="#000" stroke-width="0.18">1800</text>
<text transform="translate(631.6,101) rotate(0.03)" font-family='"Liberation Sans", sans-serif' font-size="10.2" textLength="24" lengthAdjust="spacing" text-anchor="end" stroke="#000" stroke-width="0.18">2000</text>
<text transform="translate(631.6,85) rotate(0.03)" font-family='"Liberation Sans", sans-serif' font-size="10.2" textLength="24" lengthAdjust="spacing" text-anchor="end" stroke="#000" stroke-width="0.18">2200</text>
<text transform="translate(631.6,70) rotate(0.03)" font-family='"Liberation Sans", sans-serif' font-size="10.2" textLength="24" lengthAdjust="spacing" text-anchor="end" stroke="#000" stroke-width="0.18">2400</text>
<text transform="translate(631.6,57) rotate(0.03)" font-family='"Liberation Sans", sans-serif' font-size="10.2" textLength="24" lengthAdjust="spacing" text-anchor="end" stroke="#000" stroke-width="0.18">2600</text>
<text transform="translate(631.6,44) rotate(0.03)" font-family='"Liberation Sans", sans-serif' font-size="10.2" textLength="24" lengthAdjust="spacing" text-anchor="end" stroke="#000" stroke-width="0.18">2800</text>
<text transform="translate(26.5,303) rotate(0.03)" font-family='"Liberation Sans", sans-serif' font-size="10.2" textLength="24" lengthAdjust="spacing" text-anchor="middle" stroke="#000" stroke-width="0.18">2009</text>
<text transform="translate(26.5,409) rotate(0.03)" font-family='"Liberation Sans", sans-serif' font-size="10.2" textLength="24" lengthAdjust="spacing" text-anchor="middle" stroke="#000" stroke-width="0.18">2009</text>
<text transform="translate(86.5,303) rotate(0.03)" font-family='"Liberation Sans", sans-serif' font-size="10.2" textLength="24" lengthAdjust="spacing" text-anchor="middle" stroke="#000" stroke-width="0.18">2010</text>
<text transform="translate(86.5,409) rotate(0.03)" font-family='"Liberation Sans", sans-serif' font-size="10.2" textLength="24" lengthAdjust="spacing" text-anchor="middle" stroke="#000" stroke-width="0.18">2010</text>
<text transform="translate(146.5,303) rotate(0.03)" font-family='"Liberation Sans", sans-serif' font-size="10.2" textLength="24" lengthAdjust="spacing" text-anchor="middle" stroke="#000" stroke-width="0.18">2011</text>
<text transform="translate(146.5,409) rotate(0.03)" font-family='"Liberation Sans", sans-serif' font-size="10.2" textLength="24" lengthAdjust="spacing" text-anchor="middle" stroke="#000" stroke-width="0.18">2011</text>
<text transform="translate(206.5,303) rotate(0.03)" font-family='"Liberation Sans", sans-serif' font-size="10.2" textLength="24" lengthAdjust="spacing" text-anchor="middle" stroke="#000" stroke-width="0.18">2012</text>
<text transform="translate(206.5,409) rotate(0.03)" font-family='"Liberation Sans", sans-serif' font-size="10.2" textLength="24" lengthAdjust="spacing" text-anchor="middle" stroke="#000" stroke-width="0.18">2012</text>
<text transform="translate(266.5,303) rotate(0.03)" font-family='"Liberation Sans", sans-serif' font-size="10.2" textLength="24" lengthAdjust="spacing" text-anchor="middle" stroke="#000" stroke-width="0.18">2013</text>
<text transform="translate(266.5,409) rotate(0.03)" font-family='"Liberation Sans", sans-serif' font-size="10.2" textLength="24" lengthAdjust="spacing" text-anchor="middle" stroke="#000" stroke-width="0.18">2013</text>
<text transform="translate(326.5,303) rotate(0.03)" font-family='"Liberation Sans", sans-serif' font-size="10.2" textLength="24" lengthAdjust="spacing" text-anchor="middle" stroke="#000" stroke-width="0.18">2014</text>
<text transform="translate(326.5,409) rotate(0.03)" font-family='"Liberation Sans", sans-serif' font-size="10.2" textLength="24" lengthAdjust="spacing" text-anchor="middle" stroke="#000" stroke-width="0.18">2014</text>
<text transform="translate(386.5,303) rotate(0.03)" font-family='"Liberation Sans", sans-serif' font-size="10.2" textLength="24" lengthAdjust="spacing" text-anchor="middle" stroke="#000" stroke-width="0.18">2015</text>
<text transform="translate(386.5,409) rotate(0.03)" font-family='"Liberation Sans", sans-serif' font-size="10.2" textLength="24" lengthAdjust="spacing" text-anchor="middle" stroke="#000" stroke-width="0.18">2015</text>
<text transform="translate(446.5,303) rotate(0.03)" font-family='"Liberation Sans", sans-serif' font-size="10.2" textLength="24" lengthAdjust="spacing" text-anchor="middle" stroke="#000" stroke-width="0.18">2016</text>
<text transform="translate(446.5,409) rotate(0.03)" font-family='"Liberation Sans", sans-serif' font-size="10.2" textLength="24" lengthAdjust="spacing" text-anchor="middle" stroke="#000" stroke-width="0.18">2016</text>
<text transform="translate(506.5,303) rotate(0.03)" font-family='"Liberation Sans", sans-serif' font-size="10.2" textLength="24" lengthAdjust="spacing" text-anchor="middle" stroke="#000" stroke-width="0.18">2017</text>
<text transform="translate(506.5,409) rotate(0.03)" font-family='"Liberation Sans", sans-serif' font-size="10.2" textLength="24" lengthAdjust="spacing" text-anchor="middle" stroke="#000" stroke-width="0.18">2017</text>
<text transform="translate(566.5,303) rotate(0.03)" font-family='"Liberation Sans", sans-serif' font-size="10.2" textLength="24" lengthAdjust="spacing" text-anchor="middle" stroke="#000" stroke-width="0.18">2018</text>
<text transform="translate(566.5,409) rotate(0.03)" font-family='"Liberation Sans", sans-serif' font-size="10.2" textLength="24" lengthAdjust="spacing" text-anchor="middle" stroke="#000" stroke-width="0.18">2018</text>
<g shape-rendering="crispEdges" fill="none">
<line x1="27.5" y1="306.5" x2="27.5" y2="398.5" stroke="#b6b6b6" stroke-width="1"/>
<line x1="42.5" y1="306.5" x2="42.5" y2="398.5" stroke="#e1e1e1" stroke-width="1"/>
<line x1="57.5" y1="306.5" x2="57.5" y2="398.5" stroke="#e1e1e1" stroke-width="1"/>
<line x1="72.5" y1="306.5" x2="72.5" y2="398.5" stroke="#e1e1e1" stroke-width="1"/>
<line x1="87.5" y1="306.5" x2="87.5" y2="398.5" stroke="#b6b6b6" stroke-width="1"/>
<line x1="102.5" y1="306.5" x2="102.5" y2="398.5" stroke="#e1e1e1" stroke-width="1"/>
<line x1="117.5" y1="306.5" x2="117.5" y2="398.5" stroke="#e1e1e1" stroke-width="1"/>
<line x1="132.5" y1="306.5" x2="132.5" y2="398.5" stroke="#e1e1e1" stroke-width="1"/>
<line x1="147.5" y1="306.5" x2="147.5" y2="398.5" stroke="#b6b6b6" stroke-width="1"/>
<line x1="162.5" y1="306.5" x2="162.5" y2="398.5" stroke="#e1e1e1" stroke-width="1"/>
<line x1="177.5" y1="306.5" x2="177.5" y2="398.5" stroke="#e1e1e1" stroke-width="1"/>
<line x1="192.5" y1="306.5" x2="192.5" y2="398.5" stroke="#e1e1e1" stroke-width="1"/>
<line x1="207.5" y1="306.5" x2="207.5" y2="398.5" stroke="#b6b6b6" stroke-width="1"/>
<line x1="222.5" y1="306.5" x2="222.5" y2="398.5" stroke="#e1e1e1" stroke-width="1"/>
<line x1="237.5" y1="306.5" x2="237.5" y2="398.5" stroke="#e1e1e1" stroke-width="1"/>
<line x1="252.5" y1="306.5" x2="252.5" y2="398.5" stroke="#e1e1e1" stroke-width="1"/>
<line x1="267.5" y1="306.5" x2="267.5" y2="398.5" stroke="#b6b6b6" stroke-width="1"/>
<line x1="282.5" y1="306.5" x2="282.5" y2="398.5" stroke="#e1e1e1" stroke-width="1"/>
<line x1="297.5" y1="306.5" x2="297.5" y2="398.5" stroke="#e1e1e1" stroke-width="1"/>
<line x1="312.5" y1="306.5" x2="312.5" y2="398.5" stroke="#e1e1e1" stroke-width="1"/>
<line x1="327.5" y1="306.5" x2="327.5" y2="398.5" stroke="#b6b6b6" stroke-width="1"/>
<line x1="342.5" y1="306.5" x2="342.5" y2="398.5" stroke="#e1e1e1" stroke-width="1"/>
<line x1="357.5" y1="306.5" x2="357.5" y2="398.5" stroke="#e1e1e1" stroke-width="1"/>
<line x1="372.5" y1="306.5" x2="372.5" y2="398.5" stroke="#e1e1e1" stroke-width="1"/>
<line x1="387.5" y1="306.5" x2="387.5" y2="398.5" stroke="#b6b6b6" stroke-width="1"/>
<line x1="402.5" y1="306.5" x2="402.5" y2="398.5" stroke="#e1e1e1" stroke-width="1"/>
<line x1="417.5" y1="306.5" x2="417.5" y2="398.5" stroke="#e1e1e1" stroke-width="1"/>
<line x1="432.5" y1="306.5" x2="432.5" y2="398.5" stroke="#e1e1e1" stroke-width="1"/>
<line x1="447.5" y1="306.5" x2="447.5" y2="398.5" stroke="#b6b6b6" stroke-width="1"/>
<line x1="462.5" y1="306.5" x2="462.5" y2="398.5" stroke="#e1e1e1" stroke-width="1"/>
<line x1="477.5" y1="306.5" x2="477.5" y2="398.5" stroke="#e1e1e1" stroke-width="1"/>
<line x1="492.5" y1="306.5" x2="492.5" y2="398.5" stroke="#e1e1e1" stroke-width="1"/>
<line x1="507.5" y1="306.5" x2="507.5" y2="398.5" stroke="#b6b6b6" stroke-width="1"/>
<line x1="522.5" y1="306.5" x2="522.5" y2="398.5" stroke="#e1e1e1" stroke-width="1"/>
<line x1="537.5" y1="306.5" x2="537.5" y2="398.5" stroke="#e1e1e1" stroke-width="1"/>
<line x1="552.5" y1="306.5" x2="552.5" y2="398.5" stroke="#e1e1e1" stroke-width="1"/>
<line x1="567.5" y1="306.5" x2="567.5" y2="398.5" stroke="#b6b6b6" stroke-width="1"/>
<line x1="582.5" y1="306.5" x2="582.5" y2="398.5" stroke="#e1e1e1" stroke-width="1"/>
<line x1="597.5" y1="306.5" x2="597.5" y2="398.5" stroke="#e1e1e1" stroke-width="1"/>
<line x1="17.5" y1="381.5" x2="604.5" y2="381.5" stroke="#e1e1e1" stroke-width="1"/>
<line x1="17.5" y1="366.5" x2="604.5" y2="366.5" stroke="#e1e1e1" stroke-width="1"/>
<line x1="17.5" y1="350.5" x2="604.5" y2="350.5" stroke="#e1e1e1" stroke-width="1"/>
<line x1="17.5" y1="335.5" x2="604.5" y2="335.5" stroke="#e1e1e1" stroke-width="1"/>
<line x1="17.5" y1="319.5" x2="604.5" y2="319.5" stroke="#e1e1e1" stroke-width="1"/>
</g>
<clipPath id="cv"><rect x="18" y="307" width="586" height="91"/></clipPath>
<g clip-path="url(#cv)">
<rect x="15.5" y="340.5" width="5" height="58" fill="#d27986" stroke="#b3344b" stroke-width="1" shape-rendering="crispEdges"/>
<rect x="20.5" y="346.5" width="5" height="52" fill="#808080" stroke="#4f4f4f" stroke-width="1" shape-rendering="crispEdges"/>
<rect x="25.5" y="343.5" width="5" height="55" fill="#d27986" stroke="#b3344b" stroke-width="1" shape-rendering="crispEdges"/>
<rect x="30.5" y="335.5" width="5" height="63" fill="#d27986" stroke="#b3344b" stroke-width="1" shape-rendering="crispEdges"/>
<rect x="35.5" y="322.5" width="5" height="76" fill="#808080" stroke="#4f4f4f" stroke-width="1" shape-rendering="crispEdges"/>
<rect x="40.5" y="325.5" width="5" height="73" fill="#808080" stroke="#4f4f4f" stroke-width="1" shape-rendering="crispEdges"/>
<rect x="45.5" y="333.5" width="5" height="65" fill="#808080" stroke="#4f4f4f" stroke-width="1" shape-rendering="crispEdges"/>
<rect x="50.5" y="341.5" width="5" height="57" fill="#808080" stroke="#4f4f4f" stroke-width="1" shape-rendering="crispEdges"/>
<rect x="55.5" y="339.5" width="5" height="59" fill="#808080" stroke="#4f4f4f" stroke-width="1" shape-rendering="crispEdges"/>
<rect x="60.5" y="340.5" width="5" height="58" fill="#808080" stroke="#4f4f4f" stroke-width="1" shape-rendering="crispEdges"/>
<rect x="65.5" y="339.5" width="5" height="59" fill="#808080" stroke="#4f4f4f" stroke-width="1" shape-rendering="crispEdges"/>
<rect x="70.5" y="340.5" width="5" height="58" fill="#d27986" stroke="#b3344b" stroke-width="1" shape-rendering="crispEdges"/>
<rect x="75.5" y="354.5" width="5" height="44" fill="#808080" stroke="#4f4f4f" stroke-width="1" shape-rendering="crispEdges"/>
<rect x="80.5" y="349.5" width="5" height="49" fill="#808080" stroke="#4f4f4f" stroke-width="1" shape-rendering="crispEdges"/>
<rect x="85.5" y="347.5" width="5" height="51" fill="#d27986" stroke="#b3344b" stroke-width="1" shape-rendering="crispEdges"/>
<rect x="90.5" y="352.5" width="5" height="46" fill="#808080" stroke="#4f4f4f" stroke-width="1" shape-rendering="crispEdges"/>
<rect x="95.5" y="343.5" width="5" height="55" fill="#808080" stroke="#4f4f4f" stroke-width="1" shape-rendering="crispEdges"/>
<rect x="100.5" y="338.5" width="5" height="60" fill="#808080" stroke="#4f4f4f" stroke-width="1" shape-rendering="crispEdges"/>
<rect x="105.5" y="329.5" width="5" height="69" fill="#d27986" stroke="#b3344b" stroke-width="1" shape-rendering="crispEdges"/>
<rect x="110.5" y="341.5" width="5" height="57" fill="#d27986" stroke="#b3344b" stroke-width="1" shape-rendering="crispEdges"/>
<rect x="115.5" y="347.5" width="5" height="51" fill="#808080" stroke="#4f4f4f" stroke-width="1" shape-rendering="crispEdges"/>
<rect x="120.5" y="352.5" width="5" height="46" fill="#d27986" stroke="#b3344b" stroke-width="1" shape-rendering="crispEdges"/>
<rect x="125.5" y="354.5" width="5" height="44" fill="#808080" stroke="#4f4f4f" stroke-width="1" shape-rendering="crispEdges"/>
<rect x="130.5" y="349.5" width="5" height="49" fill="#808080" stroke="#4f4f4f" stroke-width="1" shape-rendering="crispEdges"/>
<rect x="135.5" y="353.5" width="5" height="45" fill="#d27986" stroke="#b3344b" stroke-width="1" shape-rendering="crispEdges"/>
<rect x="140.5" y="355.5" width="5" height="43" fill="#808080" stroke="#4f4f4f" stroke-width="1" shape-rendering="crispEdges"/>
<rect x="145.5" y="350.5" width="5" height="48" fill="#808080" stroke="#4f4f4f" stroke-width="1" shape-rendering="crispEdges"/>
<rect x="150.5" y="358.5" width="5" height="40" fill="#808080" stroke="#4f4f4f" stroke-width="1" shape-rendering="crispEdges"/>
<rect x="155.5" y="349.5" width="5" height="49" fill="#d27986" stroke="#b3344b" stroke-width="1" shape-rendering="crispEdges"/>
<rect x="160.5" y="360.5" width="5" height="38" fill="#808080" stroke="#4f4f4f" stroke-width="1" shape-rendering="crispEdges"/>
<rect x="165.5" y="362.5" width="5" height="36" fill="#d27986" stroke="#b3344b" stroke-width="1" shape-rendering="crispEdges"/>
<rect x="170.5" y="358.5" width="5" height="40" fill="#d27986" stroke="#b3344b" stroke-width="1" shape-rendering="crispEdges"/>
<rect x="175.5" y="362.5" width="5" height="36" fill="#d27986" stroke="#b3344b" stroke-width="1" shape-rendering="crispEdges"/>
<rect x="180.5" y="334.5" width="5" height="64" fill="#d27986" stroke="#b3344b" stroke-width="1" shape-rendering="crispEdges"/>
<rect x="185.5" y="352.5" width="5" height="46" fill="#d27986" stroke="#b3344b" stroke-width="1" shape-rendering="crispEdges"/>
<rect x="190.5" y="350.5" width="5" height="48" fill="#808080" stroke="#4f4f4f" stroke-width="1" shape-rendering="crispEdges"/>
<rect x="195.5" y="357.5" width="5" height="41" fill="#d27986" stroke="#b3344b" stroke-width="1" shape-rendering="crispEdges"/>
<rect x="200.5" y="364.5" width="5" height="34" fill="#808080" stroke="#4f4f4f" stroke-width="1" shape-rendering="crispEdges"/>
<rect x="205.5" y="360.5" width="5" height="38" fill="#808080" stroke="#4f4f4f" stroke-width="1" shape-rendering="crispEdges"/>
<rect x="210.5" y="362.5" width="5" height="36" fill="#808080" stroke="#4f4f4f" stroke-width="1" shape-rendering="crispEdges"/>
<rect x="215.5" y="360.5" width="5" height="38" fill="#808080" stroke="#4f4f4f" stroke-width="1" shape-rendering="crispEdges"/>
<rect x="220.5" y="364.5" width="5" height="34" fill="#d27986" stroke="#b3344b" stroke-width="1" shape-rendering="crispEdges"/>
<rect x="225.5" y="358.5" width="5" height="40" fill="#d27986" stroke="#b3344b" stroke-width="1" shape-rendering="crispEdges"/>
<rect x="230.5" y="360.5" width="5" height="38" fill="#808080" stroke="#4f4f4f" stroke-width="1" shape-rendering="crispEdges"/>
<rect x="235.5" y="365.5" width="5" height="33" fill="#808080" stroke="#4f4f4f" stroke-width="1" shape-rendering="crispEdges"/>
<rect x="240.5" y="367.5" width="5" height="31" fill="#808080" stroke="#4f4f4f" stroke-width="1" shape-rendering="crispEdges"/>
<rect x="245.5" y="367.5" width="5" height="31" fill="#808080" stroke="#4f4f4f" stroke-width="1" shape-rendering="crispEdges"/>
<rect x="250.5" y="364.5" width="5" height="34" fill="#d27986" stroke="#b3344b" stroke-width="1" shape-rendering="crispEdges"/>
<rect x="255.5" y="365.5" width="5" height="33" fill="#808080" stroke="#4f4f4f" stroke-width="1" shape-rendering="crispEdges"/>
<rect x="260.5" y="368.5" width="5" height="30" fill="#808080" stroke="#4f4f4f" stroke-width="1" shape-rendering="crispEdges"/>
<rect x="265.5" y="364.5" width="5" height="34" fill="#808080" stroke="#4f4f4f" stroke-width="1" shape-rendering="crispEdges"/>
<rect x="270.5" y="368.5" width="5" height="30" fill="#808080" stroke="#4f4f4f" stroke-width="1" shape-rendering="crispEdges"/>
<rect x="275.5" y="369.5" width="5" height="29" fill="#808080" stroke="#4f4f4f" stroke-width="1" shape-rendering="crispEdges"/>
<rect x="280.5" y="363.5" width="5" height="35" fill="#808080" stroke="#4f4f4f" stroke-width="1" shape-rendering="crispEdges"/>
<rect x="285.5" y="366.5" width="5" height="32" fill="#808080" stroke="#4f4f4f" stroke-width="1" shape-rendering="crispEdges"/>
<rect x="290.5" y="366.5" width="5" height="32" fill="#d27986" stroke="#b3344b" stroke-width="1" shape-rendering="crispEdges"/>
<rect x="295.5" y="368.5" width="5" height="30" fill="#808080" stroke="#4f4f4f" stroke-width="1" shape-rendering="crispEdges"/>
<rect x="300.5" y="372.5" width="5" height="26" fill="#d27986" stroke="#b3344b" stroke-width="1" shape-rendering="crispEdges"/>
<rect x="305.5" y="371.5" width="5" height="27" fill="#808080" stroke="#4f4f4f" stroke-width="1" shape-rendering="crispEdges"/>
<rect x="310.5" y="366.5" width="5" height="32" fill="#808080" stroke="#4f4f4f" stroke-width="1" shape-rendering="crispEdges"/>
<rect x="315.5" y="372.5" width="5" height="26" fill="#808080" stroke="#4f4f4f" stroke-width="1" shape-rendering="crispEdges"/>
<rect x="320.5" y="372.5" width="5" height="26" fill="#808080" stroke="#4f4f4f" stroke-width="1" shape-rendering="crispEdges"/>
<rect x="325.5" y="366.5" width="5" height="32" fill="#d27986" stroke="#b3344b" stroke-width="1" shape-rendering="crispEdges"/>
<rect x="330.5" y="370.5" width="5" height="28" fill="#808080" stroke="#4f4f4f" stroke-width="1" shape-rendering="crispEdges"/>
<rect x="335.5" y="370.5" width="5" height="28" fill="#808080" stroke="#4f4f4f" stroke-width="1" shape-rendering="crispEdges"/>
<rect x="340.5" y="367.5" width="5" height="31" fill="#808080" stroke="#4f4f4f" stroke-width="1" shape-rendering="crispEdges"/>
<rect x="345.5" y="373.5" width="5" height="25" fill="#808080" stroke="#4f4f4f" stroke-width="1" shape-rendering="crispEdges"/>
<rect x="350.5" y="373.5" width="5" height="25" fill="#808080" stroke="#4f4f4f" stroke-width="1" shape-rendering="crispEdges"/>
<rect x="355.5" y="371.5" width="5" height="27" fill="#d27986" stroke="#b3344b" stroke-width="1" shape-rendering="crispEdges"/>
<rect x="360.5" y="376.5" width="5" height="22" fill="#808080" stroke="#4f4f4f" stroke-width="1" shape-rendering="crispEdges"/>
<rect x="365.5" y="372.5" width="5" height="26" fill="#d27986" stroke="#b3344b" stroke-width="1" shape-rendering="crispEdges"/>
<rect x="370.5" y="362.5" width="5" height="36" fill="#808080" stroke="#4f4f4f" stroke-width="1" shape-rendering="crispEdges"/>
<rect x="375.5" y="376.5" width="5" height="22" fill="#808080" stroke="#4f4f4f" stroke-width="1" shape-rendering="crispEdges"/>
<rect x="380.5" y="369.5" width="5" height="29" fill="#d27986" stroke="#b3344b" stroke-width="1" shape-rendering="crispEdges"/>
<rect x="385.5" y="368.5" width="5" height="30" fill="#d27986" stroke="#b3344b" stroke-width="1" shape-rendering="crispEdges"/>
<rect x="390.5" y="372.5" width="5" height="26" fill="#808080" stroke="#4f4f4f" stroke-width="1" shape-rendering="crispEdges"/>
<rect x="395.5" y="369.5" width="5" height="29" fill="#d27986" stroke="#b3344b" stroke-width="1" shape-rendering="crispEdges"/>
<rect x="400.5" y="371.5" width="5" height="27" fill="#808080" stroke="#4f4f4f" stroke-width="1" shape-rendering="crispEdges"/>
<rect x="405.5" y="374.5" width="5" height="24" fill="#808080" stroke="#4f4f4f" stroke-width="1" shape-rendering="crispEdges"/>
<rect x="410.5" y="371.5" width="5" height="27" fill="#d27986" stroke="#b3344b" stroke-width="1" shape-rendering="crispEdges"/>
<rect x="415.5" y="367.5" width="5" height="31" fill="#808080" stroke="#4f4f4f" stroke-width="1" shape-rendering="crispEdges"/>
<rect x="420.5" y="364.5" width="5" height="34" fill="#d27986" stroke="#b3344b" stroke-width="1" shape-rendering="crispEdges"/>
<rect x="425.5" y="365.5" width="5" height="33" fill="#d27986" stroke="#b3344b" stroke-width="1" shape-rendering="crispEdges"/>
<rect x="430.5" y="364.5" width="5" height="34" fill="#808080" stroke="#4f4f4f" stroke-width="1" shape-rendering="crispEdges"/>
<rect x="435.5" y="369.5" width="5" height="29" fill="#808080" stroke="#4f4f4f" stroke-width="1" shape-rendering="crispEdges"/>
<rect x="440.5" y="365.5" width="5" height="33" fill="#d27986" stroke="#b3344b" stroke-width="1" shape-rendering="crispEdges"/>
<rect x="445.5" y="359.5" width="5" height="39" fill="#d27986" stroke="#b3344b" stroke-width="1" shape-rendering="crispEdges"/>
<rect x="450.5" y="360.5" width="5" height="38" fill="#d27986" stroke="#b3344b" stroke-width="1" shape-rendering="crispEdges"/>
<rect x="455.5" y="365.5" width="5" height="33" fill="#808080" stroke="#4f4f4f" stroke-width="1" shape-rendering="crispEdges"/>
<rect x="460.5" y="367.5" width="5" height="31" fill="#808080" stroke="#4f4f4f" stroke-width="1" shape-rendering="crispEdges"/>
<rect x="465.5" y="369.5" width="5" height="29" fill="#808080" stroke="#4f4f4f" stroke-width="1" shape-rendering="crispEdges"/>
<rect x="470.5" y="366.5" width="5" height="32" fill="#808080" stroke="#4f4f4f" stroke-width="1" shape-rendering="crispEdges"/>
<rect x="475.5" y="372.5" width="5" height="26" fill="#808080" stroke="#4f4f4f" stroke-width="1" shape-rendering="crispEdges"/>
<rect x="480.5" y="370.5" width="5" height="28" fill="#d27986" stroke="#b3344b" stroke-width="1" shape-rendering="crispEdges"/>
<rect x="485.5" y="368.5" width="5" height="30" fill="#d27986" stroke="#b3344b" stroke-width="1" shape-rendering="crispEdges"/>
<rect x="490.5" y="370.5" width="5" height="28" fill="#d27986" stroke="#b3344b" stroke-width="1" shape-rendering="crispEdges"/>
<rect x="495.5" y="364.5" width="5" height="34" fill="#808080" stroke="#4f4f4f" stroke-width="1" shape-rendering="crispEdges"/>
<rect x="500.5" y="370.5" width="5" height="28" fill="#808080" stroke="#4f4f4f" stroke-width="1" shape-rendering="crispEdges"/>
<rect x="505.5" y="371.5" width="5" height="27" fill="#808080" stroke="#4f4f4f" stroke-width="1" shape-rendering="crispEdges"/>
<rect x="510.5" y="372.5" width="5" height="26" fill="#808080" stroke="#4f4f4f" stroke-width="1" shape-rendering="crispEdges"/>
<rect x="515.5" y="368.5" width="5" height="30" fill="#d27986" stroke="#b3344b" stroke-width="1" shape-rendering="crispEdges"/>
<rect x="520.5" y="374.5" width="5" height="24" fill="#808080" stroke="#4f4f4f" stroke-width="1" shape-rendering="crispEdges"/>
<rect x="525.5" y="371.5" width="5" height="27" fill="#808080" stroke="#4f4f4f" stroke-width="1" shape-rendering="crispEdges"/>
<rect x="530.5" y="368.5" width="5" height="30" fill="#808080" stroke="#4f4f4f" stroke-width="1" shape-rendering="crispEdges"/>
<rect x="535.5" y="374.5" width="5" height="24" fill="#808080" stroke="#4f4f4f" stroke-width="1" shape-rendering="crispEdges"/>
<rect x="540.5" y="372.5" width="5" height="26" fill="#808080" stroke="#4f4f4f" stroke-width="1" shape-rendering="crispEdges"/>
<rect x="545.5" y="373.5" width="5" height="25" fill="#808080" stroke="#4f4f4f" stroke-width="1" shape-rendering="crispEdges"/>
<rect x="550.5" y="372.5" width="5" height="26" fill="#808080" stroke="#4f4f4f" stroke-width="1" shape-rendering="crispEdges"/>
<rect x="555.5" y="370.5" width="5" height="28" fill="#808080" stroke="#4f4f4f" stroke-width="1" shape-rendering="crispEdges"/>
<rect x="560.5" y="373.5" width="5" height="25" fill="#808080" stroke="#4f4f4f" stroke-width="1" shape-rendering="crispEdges"/>
<rect x="565.5" y="368.5" width="5" height="30" fill="#808080" stroke="#4f4f4f" stroke-width="1" shape-rendering="crispEdges"/>
<rect x="570.5" y="366.5" width="5" height="32" fill="#d27986" stroke="#b3344b" stroke-width="1" shape-rendering="crispEdges"/>
<rect x="575.5" y="366.5" width="5" height="32" fill="#d27986" stroke="#b3344b" stroke-width="1" shape-rendering="crispEdges"/>
<rect x="580.5" y="371.5" width="5" height="27" fill="#808080" stroke="#4f4f4f" stroke-width="1" shape-rendering="crispEdges"/>
<rect x="585.5" y="371.5" width="5" height="27" fill="#808080" stroke="#4f4f4f" stroke-width="1" shape-rendering="crispEdges"/>
<rect x="590.5" y="368.5" width="5" height="30" fill="#808080" stroke="#4f4f4f" stroke-width="1" shape-rendering="crispEdges"/>
<rect x="595.5" y="388.5" width="5" height="10" fill="#808080" stroke="#4f4f4f" stroke-width="1" shape-rendering="crispEdges"/>
<polyline points="17.5,344.7 25.2,343.1 30.6,341.2 35.5,337.5 41.6,333.9 50.9,333.0 56.0,334.1 63.2,335.5 74.4,336.1 80.6,338.2 85.7,341.2 90.8,343.3 97.0,344.3 105.2,344.0 111.3,343.7 115.2,344.3 120.6,345.7 131.6,346.1 141.9,346.8 150.5,348.4 158.3,351.5 166.5,353.5 175.7,355.2 182.9,354.3 191.0,353.5 199.3,354.3 206.1,355.4 212.3,356.4 217.4,355.6 222.5,356.4 227.7,356.4 232.8,358.6 241.0,361.1 251.2,362.7 261.5,363.8 271.7,364.8 282.0,365.4 292.2,365.8 300.0,366.6 305.2,367.9 315.5,368.7 325.7,368.7 336.0,369.5 346.2,370.3 356.5,370.7 366.7,371.4 372.9,370.3 381.0,370.9 390.0,371.4 400.2,370.3 410.5,370.7 420.7,369.9 431.0,368.7 441.2,368.3 451.5,366.8 460.7,364.4 472.0,365.4 480.0,365.4 490.0,366.6 493.2,366.6 500.4,368.7 507.5,369.9 515.7,370.3 526.0,370.7 536.2,370.3 544.4,370.3 548.5,371.4 556.7,371.4 567.0,371.4 571.0,370.3 585.0,370.3 597.5,370.7" fill="none" stroke="#1a1a92" stroke-width="1.2" stroke-linejoin="round"/>
</g>
<rect x="18" y="307" width="150" height="22.5" fill="#fff"/>
<g shape-rendering="crispEdges" fill="none" stroke="#ababab" stroke-width="1">
<rect x="17.5" y="306.5" width="587.0" height="92.0"/>
<line x1="604.5" y1="393.5" x2="606.0" y2="393.5"/>
<line x1="604.5" y1="390.5" x2="606.0" y2="390.5"/>
<line x1="604.5" y1="387.5" x2="606.0" y2="387.5"/>
<line x1="604.5" y1="384.5" x2="606.0" y2="384.5"/>
<line x1="604.5" y1="381.5" x2="607.0" y2="381.5"/>
<line x1="604.5" y1="378.5" x2="606.0" y2="378.5"/>
<line x1="604.5" y1="375.5" x2="606.0" y2="375.5"/>
<line x1="604.5" y1="372.5" x2="606.0" y2="372.5"/>
<line x1="604.5" y1="369.5" x2="606.0" y2="369.5"/>
<line x1="604.5" y1="366.5" x2="607.0" y2="366.5"/>
<line x1="604.5" y1="363.5" x2="606.0" y2="363.5"/>
<line x1="604.5" y1="359.5" x2="606.0" y2="359.5"/>
<line x1="604.5" y1="356.5" x2="606.0" y2="356.5"/>
<line x1="604.5" y1="353.5" x2="606.0" y2="353.5"/>
<line x1="604.5" y1="350.5" x2="607.0" y2="350.5"/>
<line x1="604.5" y1="347.5" x2="606.0" y2="347.5"/>
<line x1="604.5" y1="344.5" x2="606.0" y2="344.5"/>
<line x1="604.5" y1="341.5" x2="606.0" y2="341.5"/>
<line x1="604.5" y1="338.5" x2="606.0" y2="338.5"/>
<line x1="604.5" y1="335.5" x2="607.0" y2="335.5"/>
<line x1="604.5" y1="332.5" x2="606.0" y2="332.5"/>
<line x1="604.5" y1="329.5" x2="606.0" y2="329.5"/>
<line x1="604.5" y1="325.5" x2="606.0" y2="325.5"/>
<line x1="604.5" y1="322.5" x2="606.0" y2="322.5"/>
<line x1="604.5" y1="319.5" x2="607.0" y2="319.5"/>
<line x1="604.5" y1="316.5" x2="606.0" y2="316.5"/>
<line x1="604.5" y1="313.5" x2="606.0" y2="313.5"/>
<line x1="604.5" y1="310.5" x2="606.0" y2="310.5"/>
<line x1="604.5" y1="307.5" x2="606.0" y2="307.5"/>
<line x1="22.5" y1="306.5" x2="22.5" y2="305.0"/>
<line x1="22.5" y1="398.5" x2="22.5" y2="400.0"/>
<line x1="27.5" y1="306.5" x2="27.5" y2="304.0"/>
<line x1="27.5" y1="398.5" x2="27.5" y2="401.0"/>
<line x1="32.5" y1="306.5" x2="32.5" y2="305.0"/>
<line x1="32.5" y1="398.5" x2="32.5" y2="400.0"/>
<line x1="37.5" y1="306.5" x2="37.5" y2="305.0"/>
<line x1="37.5" y1="398.5" x2="37.5" y2="400.0"/>
<line x1="42.5" y1="306.5" x2="42.5" y2="305.0"/>
<line x1="42.5" y1="398.5" x2="42.5" y2="400.0"/>
<line x1="47.5" y1="306.5" x2="47.5" y2="305.0"/>
<line x1="47.5" y1="398.5" x2="47.5" y2="400.0"/>
<line x1="52.5" y1="306.5" x2="52.5" y2="305.0"/>
<line x1="52.5" y1="398.5" x2="52.5" y2="400.0"/>
<line x1="57.5" y1="306.5" x2="57.5" y2="305.0"/>
<line x1="57.5" y1="398.5" x2="57.5" y2="400.0"/>
<line x1="62.5" y1="306.5" x2="62.5" y2="305.0"/>
<line x1="62.5" y1="398.5" x2="62.5" y2="400.0"/>
<line x1="67.5" y1="306.5" x2="67.5" y2="305.0"/>
<line x1="67.5" y1="398.5" x2="67.5" y2="400.0"/>
<line x1="72.5" y1="306.5" x2="72.5" y2="305.0"/>
<line x1="72.5" y1="398.5" x2="72.5" y2="400.0"/>
<line x1="77.5" y1="306.5" x2="77.5" y2="305.0"/>
<line x1="77.5" y1="398.5" x2="77.5" y2="400.0"/>
<line x1="82.5" y1="306.5" x2="82.5" y2="305.0"/>
<line x1="82.5" y1="398.5" x2="82.5" y2="400.0"/>
<line x1="87.5" y1="306.5" x2="87.5" y2="304.0"/>
<line x1="87.5" y1="398.5" x2="87.5" y2="401.0"/>
<line x1="92.5" y1="306.5" x2="92.5" y2="305.0"/>
<line x1="92.5" y1="398.5" x2="92.5" y2="400.0"/>
<line x1="97.5" y1="306.5" x2="97.5" y2="305.0"/>
<line x1="97.5" y1="398.5" x2="97.5" y2="400.0"/>
<line x1="102.5" y1="306.5" x2="102.5" y2="305.0"/>
<line x1="102.5" y1="398.5" x2="102.5" y2="400.0"/>
<line x1="107.5" y1="306.5" x2="107.5" y2="305.0"/>
<line x1="107.5" y1="398.5" x2="107.5" y2="400.0"/>
<line x1="112.5" y1="306.5" x2="112.5" y2="305.0"/>
<line x1="112.5" y1="398.5" x2="112.5" y2="400.0"/>
<line x1="117.5" y1="306.5" x2="117.5" y2="305.0"/>
<line x1="117.5" y1="398.5" x2="117.5" y2="400.0"/>
<line x1="122.5" y1="306.5" x2="122.5" y2="305.0"/>
<line x1="122.5" y1="398.5" x2="122.5" y2="400.0"/>
<line x1="127.5" y1="306.5" x2="127.5" y2="305.0"/>
<line x1="127.5" y1="398.5" x2="127.5" y2="400.0"/>
<line x1="132.5" y1="306.5" x2="132.5" y2="305.0"/>
<line x1="132.5" y1="398.5" x2="132.5" y2="400.0"/>
<line x1="137.5" y1="306.5" x2="137.5" y2="305.0"/>
<line x1="137.5" y1="398.5" x2="137.5" y2="400.0"/>
<line x1="142.5" y1="306.5" x2="142.5" y2="305.0"/>
<line x1="142.5" y1="398.5" x2="142.5" y2="400.0"/>
<line x1="147.5" y1="306.5" x2="147.5" y2="304.0"/>
<line x1="147.5" y1="398.5" x2="147.5" y2="401.0"/>
<line x1="152.5" y1="306.5" x2="152.5" y2="305.0"/>
<line x1="152.5" y1="398.5" x2="152.5" y2="400.0"/>
<line x1="157.5" y1="306.5" x2="157.5" y2="305.0"/>
<line x1="157.5" y1="398.5" x2="157.5" y2="400.0"/>
<line x1="162.5" y1="306.5" x2="162.5" y2="305.0"/>
<line x1="162.5" y1="398.5" x2="162.5" y2="400.0"/>
<line x1="167.5" y1="306.5" x2="167.5" y2="305.0"/>
<line x1="167.5" y1="398.5" x2="167.5" y2="400.0"/>
<line x1="172.5" y1="306.5" x2="172.5" y2="305.0"/>
<line x1="172.5" y1="398.5" x2="172.5" y2="400.0"/>
<line x1="177.5" y1="306.5" x2="177.5" y2="305.0"/>
<line x1="177.5" y1="398.5" x2="177.5" y2="400.0"/>
<line x1="182.5" y1="306.5" x2="182.5" y2="305.0"/>
<line x1="182.5" y1="398.5" x2="182.5" y2="400.0"/>
<line x1="187.5" y1="306.5" x2="187.5" y2="305.0"/>
<line x1="187.5" y1="398.5" x2="187.5" y2="400.0"/>
<line x1="192.5" y1="306.5" x2="192.5" y2="305.0"/>
<line x1="192.5" y1="398.5" x2="192.5" y2="400.0"/>
<line x1="197.5" y1="306.5" x2="197.5" y2="305.0"/>
<line x1="197.5" y1="398.5" x2="197.5" y2="400.0"/>
<line x1="202.5" y1="306.5" x2="202.5" y2="305.0"/>
<line x1="202.5" y1="398.5" x2="202.5" y2="400.0"/>
<line x1="207.5" y1="306.5" x2="207.5" y2="304.0"/>
<line x1="207.5" y1="398.5" x2="207.5" y2="401.0"/>
<line x1="212.5" y1="306.5" x2="212.5" y2="305.0"/>
<line x1="212.5" y1="398.5" x2="212.5" y2="400.0"/>
<line x1="217.5" y1="306.5" x2="217.5" y2="305.0"/>
<line x1="217.5" y1="398.5" x2="217.5" y2="400.0"/>
<line x1="222.5" y1="306.5" x2="222.5" y2="305.0"/>
<line x1="222.5" y1="398.5" x2="222.5" y2="400.0"/>
<line x1="227.5" y1="306.5" x2="227.5" y2="305.0"/>
<line x1="227.5" y1="398.5" x2="227.5" y2="400.0"/>
<line x1="232.5" y1="306.5" x2="232.5" y2="305.0"/>
<line x1="232.5" y1="398.5" x2="232.5" y2="400.0"/>
<line x1="237.5" y1="306.5" x2="237.5" y2="305.0"/>
<line x1="237.5" y1="398.5" x2="237.5" y2="400.0"/>
<line x1="242.5" y1="306.5" x2="242.5" y2="305.0"/>
<line x1="242.5" y1="398.5" x2="242.5" y2="400.0"/>
<line x1="247.5" y1="306.5" x2="247.5" y2="305.0"/>
<line x1="247.5" y1="398.5" x2="247.5" y2="400.0"/>
<line x1="252.5" y1="306.5" x2="252.5" y2="305.0"/>
<line x1="252.5" y1="398.5" x2="252.5" y2="400.0"/>
<line x1="257.5" y1="306.5" x2="257.5" y2="305.0"/>
<line x1="257.5" y1="398.5" x2="257.5" y2="400.0"/>
<line x1="262.5" y1="306.5" x2="262.5" y2="305.0"/>
<line x1="262.5" y1="398.5" x2="262.5" y2="400.0"/>
<line x1="267.5" y1="306.5" x2="267.5" y2="304.0"/>
<line x1="267.5" y1="398.5" x2="267.5" y2="401.0"/>
<line x1="272.5" y1="306.5" x2="272.5" y2="305.0"/>
<line x1="272.5" y1="398.5" x2="272.5" y2="400.0"/>
<line x1="277.5" y1="306.5" x2="277.5" y2="305.0"/>
<line x1="277.5" y1="398.5" x2="277.5" y2="400.0"/>
<line x1="282.5" y1="306.5" x2="282.5" y2="305.0"/>
<line x1="282.5" y1="398.5" x2="282.5" y2="400.0"/>
<line x1="287.5" y1="306.5" x2="287.5" y2="305.0"/>
<line x1="287.5" y1="398.5" x2="287.5" y2="400.0"/>
<line x1="292.5" y1="306.5" x2="292.5" y2="305.0"/>
<line x1="292.5" y1="398.5" x2="292.5" y2="400.0"/>
<line x1="297.5" y1="306.5" x2="297.5" y2="305.0"/>
<line x1="297.5" y1="398.5" x2="297.5" y2="400.0"/>
<line x1="302.5" y1="306.5" x2="302.5" y2="305.0"/>
<line x1="302.5" y1="398.5" x2="302.5" y2="400.0"/>
<line x1="307.5" y1="306.5" x2="307.5" y2="305.0"/>
<line x1="307.5" y1="398.5" x2="307.5" y2="400.0"/>
<line x1="312.5" y1="306.5" x2="312.5" y2="305.0"/>
<line x1="312.5" y1="398.5" x2="312.5" y2="400.0"/>
<line x1="317.5" y1="306.5" x2="317.5" y2="305.0"/>
<line x1="317.5" y1="398.5" x2="317.5" y2="400.0"/>
<line x1="322.5" y1="306.5" x2="322.5" y2="305.0"/>
<line x1="322.5" y1="398.5" x2="322.5" y2="400.0"/>
<line x1="327.5" y1="306.5" x2="327.5" y2="304.0"/>
<line x1="327.5" y1="398.5" x2="327.5" y2="401.0"/>
<line x1="332.5" y1="306.5" x2="332.5" y2="305.0"/>
<line x1="332.5" y1="398.5" x2="332.5" y2="400.0"/>
<line x1="337.5" y1="306.5" x2="337.5" y2="305.0"/>
<line x1="337.5" y1="398.5" x2="337.5" y2="400.0"/>
<line x1="342.5" y1="306.5" x2="342.5" y2="305.0"/>
<line x1="342.5" y1="398.5" x2="342.5" y2="400.0"/>
<line x1="347.5" y1="306.5" x2="347.5" y2="305.0"/>
<line x1="347.5" y1="398.5" x2="347.5" y2="400.0"/>
<line x1="352.5" y1="306.5" x2="352.5" y2="305.0"/>
<line x1="352.5" y1="398.5" x2="352.5" y2="400.0"/>
<line x1="357.5" y1="306.5" x2="357.5" y2="305.0"/>
<line x1="357.5" y1="398.5" x2="357.5" y2="400.0"/>
<line x1="362.5" y1="306.5" x2="362.5" y2="305.0"/>
<line x1="362.5" y1="398.5" x2="362.5" y2="400.0"/>
<line x1="367.5" y1="306.5" x2="367.5" y2="305.0"/>
<line x1="367.5" y1="398.5" x2="367.5" y2="400.0"/>
<line x1="372.5" y1="306.5" x2="372.5" y2="305.0"/>
<line x1="372.5" y1="398.5" x2="372.5" y2="400.0"/>
<line x1="377.5" y1="306.5" x2="377.5" y2="305.0"/>
<line x1="377.5" y1="398.5" x2="377.5" y2="400.0"/>
<line x1="382.5" y1="306.5" x2="382.5" y2="305.0"/>
<line x1="382.5" y1="398.5" x2="382.5" y2="400.0"/>
<line x1="387.5" y1="306.5" x2="387.5" y2="304.0"/>
<line x1="387.5" y1="398.5" x2="387.5" y2="401.0"/>
<line x1="392.5" y1="306.5" x2="392.5" y2="305.0"/>
<line x1="392.5" y1="398.5" x2="392.5" y2="400.0"/>
<line x1="397.5" y1="306.5" x2="397.5" y2="305.0"/>
<line x1="397.5" y1="398.5" x2="397.5" y2="400.0"/>
<line x1="402.5" y1="306.5" x2="402.5" y2="305.0"/>
<line x1="402.5" y1="398.5" x2="402.5" y2="400.0"/>
<line x1="407.5" y1="306.5" x2="407.5" y2="305.0"/>
<line x1="407.5" y1="398.5" x2="407.5" y2="400.0"/>
<line x1="412.5" y1="306.5" x2="412.5" y2="305.0"/>
<line x1="412.5" y1="398.5" x2="412.5" y2="400.0"/>
<line x1="417.5" y1="306.5" x2="417.5" y2="305.0"/>
<line x1="417.5" y1="398.5" x2="417.5" y2="400.0"/>
<line x1="422.5" y1="306.5" x2="422.5" y2="305.0"/>
<line x1="422.5" y1="398.5" x2="422.5" y2="400.0"/>
<line x1="427.5" y1="306.5" x2="427.5" y2="305.0"/>
<line x1="427.5" y1="398.5" x2="427.5" y2="400.0"/>
<line x1="432.5" y1="306.5" x2="432.5" y2="305.0"/>
<line x1="432.5" y1="398.5" x2="432.5" y2="400.0"/>
<line x1="437.5" y1="306.5" x2="437.5" y2="305.0"/>
<line x1="437.5" y1="398.5" x2="437.5" y2="400.0"/>
<line x1="442.5" y1="306.5" x2="442.5" y2="305.0"/>
<line x1="442.5" y1="398.5" x2="442.5" y2="400.0"/>
<line x1="447.5" y1="306.5" x2="447.5" y2="304.0"/>
<line x1="447.5" y1="398.5" x2="447.5" y2="401.0"/>
<line x1="452.5" y1="306.5" x2="452.5" y2="305.0"/>
<line x1="452.5" y1="398.5" x2="452.5" y2="400.0"/>
<line x1="457.5" y1="306.5" x2="457.5" y2="305.0"/>
<line x1="457.5" y1="398.5" x2="457.5" y2="400.0"/>
<line x1="462.5" y1="306.5" x2="462.5" y2="305.0"/>
<line x1="462.5" y1="398.5" x2="462.5" y2="400.0"/>
<line x1="467.5" y1="306.5" x2="467.5" y2="305.0"/>
<line x1="467.5" y1="398.5" x2="467.5" y2="400.0"/>
<line x1="472.5" y1="306.5" x2="472.5" y2="305.0"/>
<line x1="472.5" y1="398.5" x2="472.5" y2="400.0"/>
<line x1="477.5" y1="306.5" x2="477.5" y2="305.0"/>
<line x1="477.5" y1="398.5" x2="477.5" y2="400.0"/>
<line x1="482.5" y1="306.5" x2="482.5" y2="305.0"/>
<line x1="482.5" y1="398.5" x2="482.5" y2="400.0"/>
<line x1="487.5" y1="306.5" x2="487.5" y2="305.0"/>
<line x1="487.5" y1="398.5" x2="487.5" y2="400.0"/>
<line x1="492.5" y1="306.5" x2="492.5" y2="305.0"/>
<line x1="492.5" y1="398.5" x2="492.5" y2="400.0"/>
<line x1="497.5" y1="306.5" x2="497.5" y2="305.0"/>
<line x1="497.5" y1="398.5" x2="497.5" y2="400.0"/>
<line x1="502.5" y1="306.5" x2="502.5" y2="305.0"/>
<line x1="502.5" y1="398.5" x2="502.5" y2="400.0"/>
<line x1="507.5" y1="306.5" x2="507.5" y2="304.0"/>
<line x1="507.5" y1="398.5" x2="507.5" y2="401.0"/>
<line x1="512.5" y1="306.5" x2="512.5" y2="305.0"/>
<line x1="512.5" y1="398.5" x2="512.5" y2="400.0"/>
<line x1="517.5" y1="306.5" x2="517.5" y2="305.0"/>
<line x1="517.5" y1="398.5" x2="517.5" y2="400.0"/>
<line x1="522.5" y1="306.5" x2="522.5" y2="305.0"/>
<line x1="522.5" y1="398.5" x2="522.5" y2="400.0"/>
<line x1="527.5" y1="306.5" x2="527.5" y2="305.0"/>
<line x1="527.5" y1="398.5" x2="527.5" y2="400.0"/>
<line x1="532.5" y1="306.5" x2="532.5" y2="305.0"/>
<line x1="532.5" y1="398.5" x2="532.5" y2="400.0"/>
<line x1="537.5" y1="306.5" x2="537.5" y2="305.0"/>
<line x1="537.5" y1="398.5" x2="537.5" y2="400.0"/>
<line x1="542.5" y1="306.5" x2="542.5" y2="305.0"/>
<line x1="542.5" y1="398.5" x2="542.5" y2="400.0"/>
<line x1="547.5" y1="306.5" x2="547.5" y2="305.0"/>
<line x1="547.5" y1="398.5" x2="547.5" y2="400.0"/>
<line x1="552.5" y1="306.5" x2="552.5" y2="305.0"/>
<line x1="552.5" y1="398.5" x2="552.5" y2="400.0"/>
<line x1="557.5" y1="306.5" x2="557.5" y2="305.0"/>
<line x1="557.5" y1="398.5" x2="557.5" y2="400.0"/>
<line x1="562.5" y1="306.5" x2="562.5" y2="305.0"/>
<line x1="562.5" y1="398.5" x2="562.5" y2="400.0"/>
<line x1="567.5" y1="306.5" x2="567.5" y2="304.0"/>
<line x1="567.5" y1="398.5" x2="567.5" y2="401.0"/>
<line x1="572.5" y1="306.5" x2="572.5" y2="305.0"/>
<line x1="572.5" y1="398.5" x2="572.5" y2="400.0"/>
<line x1="577.5" y1="306.5" x2="577.5" y2="305.0"/>
<line x1="577.5" y1="398.5" x2="577.5" y2="400.0"/>
<line x1="582.5" y1="306.5" x2="582.5" y2="305.0"/>
<line x1="582.5" y1="398.5" x2="582.5" y2="400.0"/>
<line x1="587.5" y1="306.5" x2="587.5" y2="305.0"/>
<line x1="587.5" y1="398.5" x2="587.5" y2="400.0"/>
<line x1="592.5" y1="306.5" x2="592.5" y2="305.0"/>
<line x1="592.5" y1="398.5" x2="592.5" y2="400.0"/>
<line x1="597.5" y1="306.5" x2="597.5" y2="305.0"/>
<line x1="597.5" y1="398.5" x2="597.5" y2="400.0"/>
</g>
<text transform="translate(632.5,385) rotate(0.03)" font-family='"Liberation Sans", sans-serif' font-size="10.2" textLength="19" lengthAdjust="spacing" text-anchor="end" stroke="#000" stroke-width="0.18">25B</text>
<text transform="translate(632.5,370) rotate(0.03)" font-family='"Liberation Sans", sans-serif' font-size="10.2" textLength="19" lengthAdjust="spacing" text-anchor="end" stroke="#000" stroke-width="0.18">50B</text>
<text transform="translate(632.5,354) rotate(0.03)" font-family='"Liberation Sans", sans-serif' font-size="10.2" textLength="19" lengthAdjust="spacing" text-anchor="end" stroke="#000" stroke-width="0.18">75B</text>
<text transform="translate(632.5,339) rotate(0.03)" font-family='"Liberation Sans", sans-serif' font-size="10.2" textLength="25" lengthAdjust="spacing" text-anchor="end" stroke="#000" stroke-width="0.18">100B</text>
<text transform="translate(632.5,323) rotate(0.03)" font-family='"Liberation Sans", sans-serif' font-size="10.2" textLength="25" lengthAdjust="spacing" text-anchor="end" stroke="#000" stroke-width="0.18">125B</text>
<text transform="translate(17.4,14.8) rotate(0.03) scale(0.88,1)" font-family='"DejaVu Sans", sans-serif' font-size="12.6" font-weight="bold" textLength="38.0" lengthAdjust="spacing">$SPX</text>
<text transform="translate(54.8,14.0) rotate(0.03)" font-family='"Liberation Sans", sans-serif' font-size="10.2" textLength="123.4" lengthAdjust="spacing" stroke="#000" stroke-width="0.18">S&amp;P 500 Large Cap Index</text>
<text transform="translate(182.5,14.0) rotate(0.03)" font-family='"Liberation Sans", sans-serif' font-size="9.6" textLength="23.9" lengthAdjust="spacing" stroke="#000" stroke-width="0.18">INDX</text>
<text transform="translate(514.0,13.8) rotate(0.03)" font-family='"DejaVu Sans", sans-serif' font-size="8.2" fill="#505050" stroke="#505050" stroke-width="0.2">©</text>
<text transform="translate(524.2,13.9) rotate(0.03)" font-family='"DejaVu Sans", sans-serif' font-size="9.5" fill="#505050" textLength="80.2" lengthAdjust="spacing" stroke="#505050" stroke-width="0.2">StockCharts.com</text>
<text transform="translate(17.6,26.5) rotate(0.03)" font-family='"Liberation Sans", sans-serif' font-size="10.2" textLength="54.4" lengthAdjust="spacing" stroke="#000" stroke-width="0.18">13-Jul-2018</text>
<text transform="translate(109.2,26.5) rotate(0.03)" font-family='"DejaVu Sans", sans-serif' font-size="10.0" font-weight="bold" textLength="29.2" lengthAdjust="spacingAndGlyphs">Open</text>
<text transform="translate(141.20000000000002,26.5) rotate(0.03)" font-family='"Liberation Sans", sans-serif' font-size="10.2" textLength="39.2" lengthAdjust="spacing" stroke="#000" stroke-width="0.18">2704.95</text>
<text transform="translate(186.0,26.5) rotate(0.03)" font-family='"DejaVu Sans", sans-serif' font-size="10.0" font-weight="bold" textLength="23.7" lengthAdjust="spacingAndGlyphs">High</text>
<text transform="translate(212.6,26.5) rotate(0.03)" font-family='"Liberation Sans", sans-serif' font-size="10.2" textLength="39.9" lengthAdjust="spacing" stroke="#000" stroke-width="0.18">2804.53</text>
<text transform="translate(258.0,26.5) rotate(0.03)" font-family='"DejaVu Sans", sans-serif' font-size="10.0" font-weight="bold" textLength="23.7" lengthAdjust="spacingAndGlyphs">Low</text>
<text transform="translate(285.09999999999997,26.5) rotate(0.03)" font-family='"Liberation Sans", sans-serif' font-size="10.2" textLength="39.1" lengthAdjust="spacing" stroke="#000" stroke-width="0.18">2698.95</text>
<text transform="translate(330.09999999999997,26.5) rotate(0.03)" font-family='"DejaVu Sans", sans-serif' font-size="10.0" font-weight="bold" textLength="31.4" lengthAdjust="spacingAndGlyphs">Close</text>
<text transform="translate(364.59999999999997,26.5) rotate(0.03)" font-family='"Liberation Sans", sans-serif' font-size="10.2" textLength="39.6" lengthAdjust="spacing" stroke="#000" stroke-width="0.18">2801.31</text>
<text transform="translate(410.7,26.5) rotate(0.03)" font-family='"DejaVu Sans", sans-serif' font-size="10.0" font-weight="bold" textLength="42.2" lengthAdjust="spacingAndGlyphs">Volume</text>
<text transform="translate(457.59999999999997,26.5) rotate(0.03)" font-family='"Liberation Sans", sans-serif' font-size="10.2" textLength="27.5" lengthAdjust="spacing" stroke="#000" stroke-width="0.18">15.3B</text>
<text transform="translate(490.5,26.5) rotate(0.03)" font-family='"DejaVu Sans", sans-serif' font-size="10.0" font-weight="bold" textLength="21.8" lengthAdjust="spacingAndGlyphs">Chg</text>
<text transform="translate(515.6999999999999,26.5) rotate(0.03)" font-family='"Liberation Sans", sans-serif' font-size="10.2" textLength="78.6" lengthAdjust="spacing" stroke="#000" stroke-width="0.18">+82.94 (+3.05%)</text>
<polygon points="597,25.6 604.4,25.6 600.7,21.8" fill="#2d6b2d"/>
<g transform="translate(32.0,39.7) scale(1.28,1)"><text x="0" y="0" font-family='"DejaVu Sans", sans-serif' font-size="8.5" textLength="104.4" lengthAdjust="spacing" stroke="#000" stroke-width="0.06">$SPX (Monthly) 2801.31</text></g>
<rect x="20" y="46" width="9" height="2" fill="#000099" shape-rendering="crispEdges"/>
<text transform="translate(30.4,50.7) rotate(0.03)" font-family='"DejaVu Sans", sans-serif' font-size="8.6" fill="#000099" textLength="31.0" lengthAdjust="spacing" stroke="#000099" stroke-width="0.2">MA(10)</text>
<text transform="translate(66.1,50.7) rotate(0.03)" font-family='"DejaVu Sans Condensed", "DejaVu Sans", sans-serif' font-size="8.8" fill="#000099" textLength="33.2" lengthAdjust="spacing" stroke="#000099" stroke-width="0.2">2694.80</text>
<g stroke="#000" stroke-width="1" fill="#000" shape-rendering="crispEdges"><line x1="21.5" y1="32" x2="21.5" y2="39"/><rect x="20.5" y="33.5" width="2" height="3" fill="#fff"/><line x1="24.5" y1="33" x2="24.5" y2="40"/><rect x="23.5" y="34.5" width="2" height="4"/><line x1="27.5" y1="32" x2="27.5" y2="40"/><rect x="26.5" y="33.5" width="2" height="5" fill="#fff"/></g>
<g transform="translate(32.2,317.1) scale(1.28,1)"><text x="0" y="0" font-family='"DejaVu Sans", sans-serif' font-size="8.5" textLength="104.9" lengthAdjust="spacing" stroke="#000" stroke-width="0.06">Volume 15,300,864,000</text></g>
<rect x="20" y="323" width="9" height="2" fill="#000099" shape-rendering="crispEdges"/>
<text transform="translate(30.6,327.6) rotate(0.03)" font-family='"DejaVu Sans", sans-serif' font-size="8.6" fill="#000099" textLength="31.6" lengthAdjust="spacing" stroke="#000099" stroke-width="0.2">MA(10)</text>
<text transform="translate(66.5,327.6) rotate(0.03)" font-family='"DejaVu Sans Condensed", "DejaVu Sans", sans-serif' font-size="8.8" fill="#000099" textLength="64.0" lengthAdjust="spacing" stroke="#000099" stroke-width="0.2">42,495,025,152</text>
<g fill="#808080" stroke="#444" stroke-width="1" shape-rendering="crispEdges"><rect x="20.5" y="312.5" width="2" height="4"/><rect x="23.5" y="308.5" width="2" height="8"/><rect x="26.5" y="311.5" width="2" height="5"/></g>
<rect x="0.5" y="0.5" width="649" height="414" fill="none" stroke="#000" stroke-width="1" shape-rendering="crispEdges"/>
</svg>
</body></html>
